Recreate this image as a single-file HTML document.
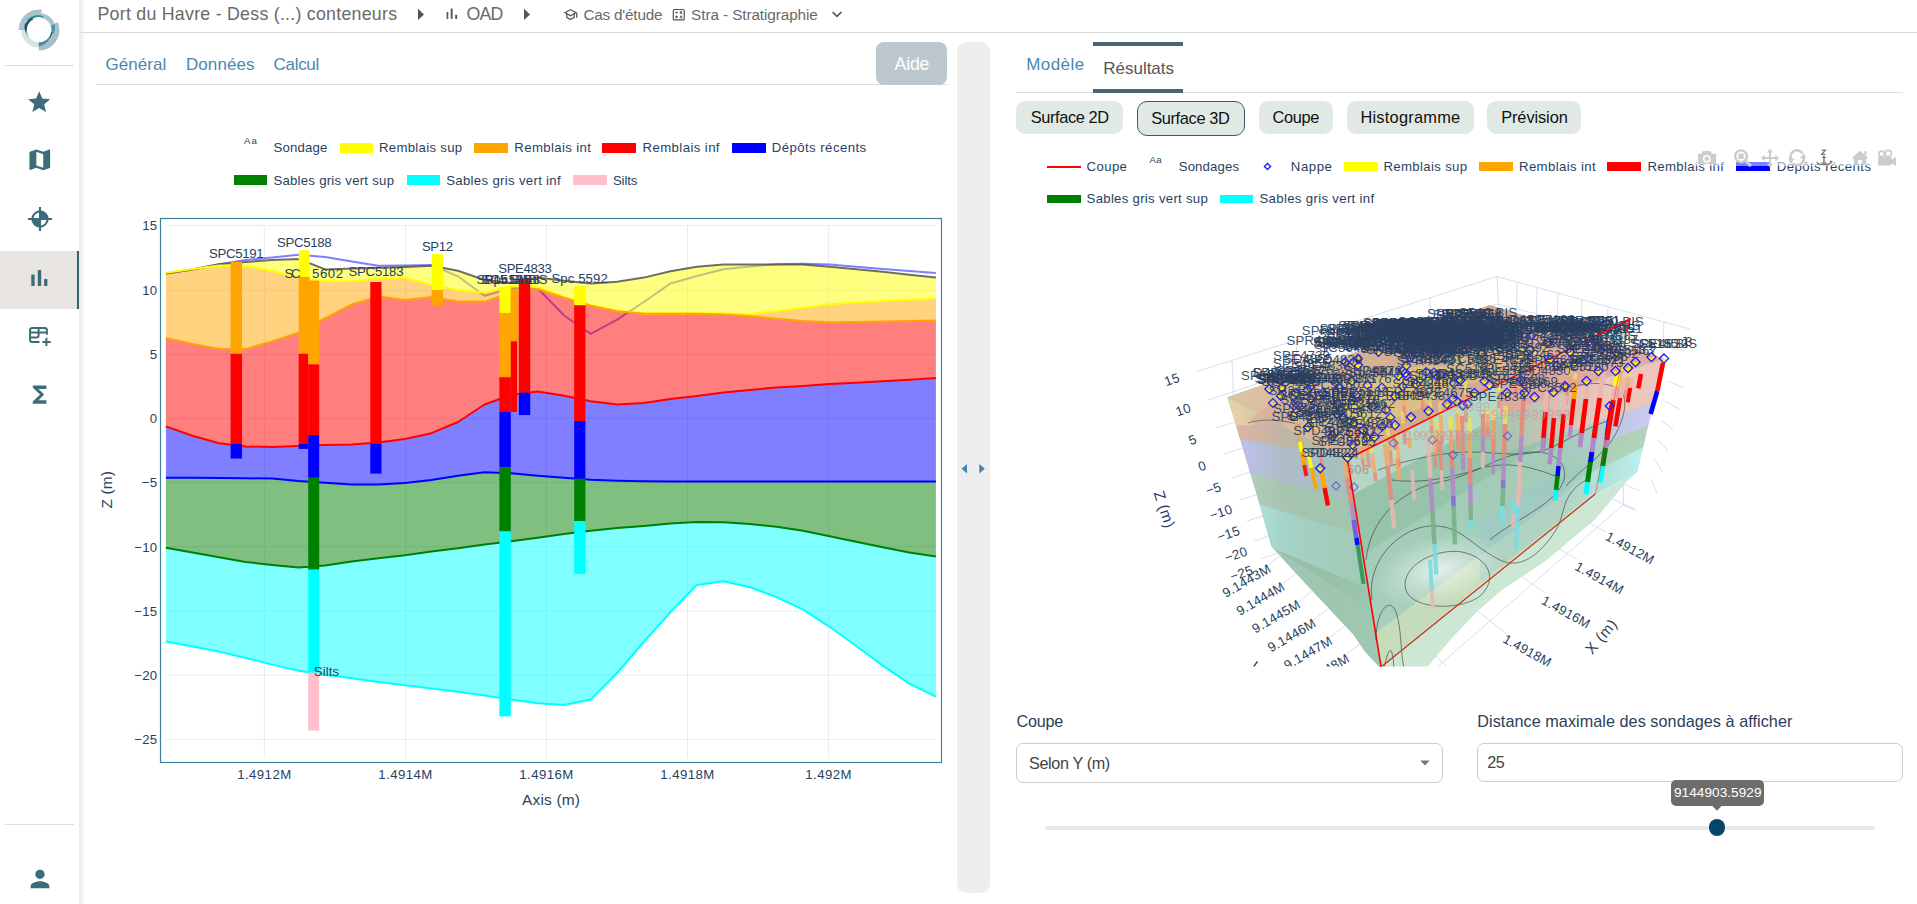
<!DOCTYPE html>
<html lang="fr"><head><meta charset="utf-8"><title>Stra - Stratigraphie</title>
<style>
html,body{margin:0;padding:0;background:#fff}
body{width:1917px;height:904px;position:relative;overflow:hidden;font-family:"Liberation Sans",sans-serif}
.abs{position:absolute}
.t{position:absolute;white-space:pre;line-height:20px;height:20px}
.sidebar{position:absolute;left:0;top:0;width:79px;height:904px;background:#fff}
svg{display:block;overflow:visible}
</style></head><body>
<!-- left chart -->
<svg class="abs" style="left:0;top:0" width="960" height="904" viewBox="0 0 960 904" font-family="Liberation Sans, sans-serif">
<path d="M166 225.4H936" stroke="#e6ebf5" stroke-width="1"/>
<path d="M166 290.1H936" stroke="#e6ebf5" stroke-width="1"/>
<path d="M166 354.4H936" stroke="#e6ebf5" stroke-width="1"/>
<path d="M166 418.2H936" stroke="#e6ebf5" stroke-width="1"/>
<path d="M166 482.5H936" stroke="#e6ebf5" stroke-width="1"/>
<path d="M166 546.8H936" stroke="#e6ebf5" stroke-width="1"/>
<path d="M166 611.0H936" stroke="#e6ebf5" stroke-width="1"/>
<path d="M166 675.2H936" stroke="#e6ebf5" stroke-width="1"/>
<path d="M166 739.4H936" stroke="#e6ebf5" stroke-width="1"/>
<path d="M264.4 225V758" stroke="#e6ebf5" stroke-width="1"/>
<path d="M405.5 225V758" stroke="#e6ebf5" stroke-width="1"/>
<path d="M546.5 225V758" stroke="#e6ebf5" stroke-width="1"/>
<path d="M687.5 225V758" stroke="#e6ebf5" stroke-width="1"/>
<path d="M828.6 225V758" stroke="#e6ebf5" stroke-width="1"/>
<polyline points="165.9,273.5 192.5,269.4 219.0,264.3 245.6,260.0 272.1,257.5 298.6,254.8 325.2,256.9 351.8,261.5 378.3,265.7 404.9,265.6 431.4,265.0 458.0,276.3 484.5,295.7 511.1,288.5 537.6,288.2 564.1,315.5 590.7,333.9 617.2,319.6 643.8,302.0 670.4,283.5 696.9,276.0 723.5,269.3 750.0,266.5 776.5,264.3 803.1,263.8 829.6,264.6 856.2,266.8 882.8,268.9 909.3,271.0 935.9,273.1" fill="none" stroke="#0000ff" stroke-width="2" stroke-opacity="0.5" stroke-linejoin="round"/>
<polygon points="165.9,273.5 192.5,269.4 219.0,264.3 245.6,261.9 272.1,260.0 298.6,259.0 325.2,269.4 351.8,268.5 378.3,267.8 404.9,266.9 431.4,265.7 458.0,270.7 484.5,280.0 511.1,283.0 537.6,277.5 564.1,280.7 590.7,283.6 617.2,281.8 643.8,277.6 670.4,271.2 696.9,266.8 723.5,264.6 750.0,264.5 776.5,264.5 803.1,264.6 829.6,266.8 856.2,269.3 882.8,271.8 909.3,274.7 935.9,277.6 935.9,298.8 909.3,299.8 882.8,301.0 856.2,302.5 829.6,304.3 803.1,307.7 776.5,311.0 750.0,314.3 723.5,313.6 696.9,313.2 670.4,313.3 643.8,313.4 617.2,310.7 590.7,305.0 564.1,297.0 537.6,286.9 511.1,285.7 484.5,292.6 458.0,290.0 431.4,284.8 404.9,277.5 378.3,278.5 351.8,280.9 325.2,281.3 298.6,277.0 272.1,271.0 245.6,265.7 219.0,265.4 192.5,269.0 165.9,272.8" fill="#ffff00" fill-opacity="0.5"/>
<polygon points="165.9,272.8 192.5,269.0 219.0,265.4 245.6,265.7 272.1,271.0 298.6,277.0 325.2,281.3 351.8,280.9 378.3,278.5 404.9,277.5 431.4,284.8 458.0,290.0 484.5,292.6 511.1,285.7 537.6,286.9 564.1,297.0 590.7,305.0 617.2,310.7 643.8,313.4 670.4,313.3 696.9,313.2 723.5,313.6 750.0,314.3 776.5,311.0 803.1,307.7 829.6,304.3 856.2,302.5 882.8,301.0 909.3,299.8 935.9,298.8 935.9,320.5 909.3,321.0 882.8,321.5 856.2,321.9 829.6,322.2 803.1,321.0 776.5,318.8 750.0,316.0 723.5,314.6 696.9,313.8 670.4,313.8 643.8,313.8 617.2,311.3 590.7,305.7 564.1,297.8 537.6,289.0 511.1,292.5 484.5,301.6 458.0,301.6 431.4,296.9 404.9,300.0 378.3,296.2 351.8,304.5 325.2,318.2 298.6,332.6 272.1,341.4 245.6,349.1 219.0,348.9 192.5,343.9 165.9,337.9" fill="#ffa500" fill-opacity="0.5"/>
<polygon points="165.9,337.9 192.5,343.9 219.0,348.9 245.6,349.1 272.1,341.4 298.6,332.6 325.2,318.2 351.8,304.5 378.3,296.2 404.9,300.0 431.4,296.9 458.0,301.6 484.5,301.6 511.1,292.5 537.6,289.0 564.1,297.8 590.7,305.7 617.2,311.3 643.8,313.8 670.4,313.8 696.9,313.8 723.5,314.6 750.0,316.0 776.5,318.8 803.1,321.0 829.6,322.2 856.2,321.9 882.8,321.5 909.3,321.0 935.9,320.5 935.9,378.0 909.3,379.7 882.8,381.3 856.2,382.8 829.6,384.1 803.1,386.0 776.5,387.5 750.0,389.9 723.5,392.5 696.9,395.9 670.4,399.1 643.8,403.1 617.2,404.5 590.7,401.3 564.1,395.7 537.6,391.6 511.1,395.0 484.5,404.5 458.0,422.0 431.4,433.2 404.9,438.9 378.3,442.6 351.8,444.5 325.2,445.1 298.6,446.1 272.1,447.0 245.6,446.4 219.0,443.3 192.5,435.7 165.9,426.4" fill="#ff0000" fill-opacity="0.5"/>
<polygon points="165.9,426.4 192.5,435.7 219.0,443.3 245.6,446.4 272.1,447.0 298.6,446.1 325.2,445.1 351.8,444.5 378.3,442.6 404.9,438.9 431.4,433.2 458.0,422.0 484.5,404.5 511.1,395.0 537.6,391.6 564.1,395.7 590.7,401.3 617.2,404.5 643.8,403.1 670.4,399.1 696.9,395.9 723.5,392.5 750.0,389.9 776.5,387.5 803.1,386.0 829.6,384.1 856.2,382.8 882.8,381.3 909.3,379.7 935.9,378.0 935.9,481.4 909.3,481.4 882.8,481.4 856.2,481.4 829.6,481.4 803.1,481.4 776.5,481.4 750.0,481.4 723.5,481.4 696.9,481.4 670.4,481.4 643.8,481.2 617.2,480.7 590.7,479.8 564.1,477.7 537.6,475.7 511.1,473.2 484.5,472.2 458.0,475.7 431.4,480.0 404.9,483.1 378.3,484.4 351.8,484.4 325.2,482.7 298.6,481.0 272.1,478.5 245.6,478.3 219.0,478.0 192.5,477.8 165.9,477.8" fill="#0000ff" fill-opacity="0.5"/>
<polygon points="165.9,477.8 192.5,477.8 219.0,478.0 245.6,478.3 272.1,478.5 298.6,481.0 325.2,482.7 351.8,484.4 378.3,484.4 404.9,483.1 431.4,480.0 458.0,475.7 484.5,472.2 511.1,473.2 537.6,475.7 564.1,477.7 590.7,479.8 617.2,480.7 643.8,481.2 670.4,481.4 696.9,481.4 723.5,481.4 750.0,481.4 776.5,481.4 803.1,481.4 829.6,481.4 856.2,481.4 882.8,481.4 909.3,481.4 935.9,481.4 935.9,556.6 909.3,552.4 882.8,547.3 856.2,541.8 829.6,536.3 803.1,530.7 776.5,526.7 750.0,524.1 723.5,522.3 696.9,522.1 670.4,523.6 643.8,525.9 617.2,528.1 590.7,530.7 564.1,534.1 537.6,537.7 511.1,541.3 484.5,544.5 458.0,548.2 431.4,551.4 404.9,555.2 378.3,558.3 351.8,561.5 325.2,565.5 298.6,567.6 272.1,565.0 245.6,561.9 219.0,557.3 192.5,552.5 165.9,547.8" fill="#008000" fill-opacity="0.5"/>
<polygon points="165.9,547.8 192.5,552.5 219.0,557.3 245.6,561.9 272.1,565.0 298.6,567.6 325.2,565.5 351.8,561.5 378.3,558.3 404.9,555.2 431.4,551.4 458.0,548.2 484.5,544.5 511.1,541.3 537.6,537.7 564.1,534.1 590.7,530.7 617.2,528.1 643.8,525.9 670.4,523.6 696.9,522.1 723.5,522.3 750.0,524.1 776.5,526.7 803.1,530.7 829.6,536.3 856.2,541.8 882.8,547.3 909.3,552.4 935.9,556.6 935.9,696.7 909.3,683.6 882.8,665.7 856.2,646.0 829.6,626.8 803.1,609.7 776.5,597.1 750.0,587.2 723.5,581.2 696.9,584.9 670.4,612.3 643.8,642.0 617.2,673.0 590.7,699.6 564.1,704.9 537.6,703.3 511.1,699.6 484.5,695.6 458.0,691.8 431.4,688.5 404.9,685.2 378.3,681.9 351.8,678.3 325.2,674.8 298.6,670.8 272.1,664.6 245.6,658.0 219.0,651.6 192.5,646.5 165.9,641.6" fill="#00ffff" fill-opacity="0.5"/>
<polyline points="165.9,273.5 192.5,269.4 219.0,264.3 245.6,261.9 272.1,260.0 298.6,259.0 325.2,269.4 351.8,268.5 378.3,267.8 404.9,266.9 431.4,265.7 458.0,270.7 484.5,280.0 511.1,283.0 537.6,277.5 564.1,280.7 590.7,283.6 617.2,281.8 643.8,277.6 670.4,271.2 696.9,266.8 723.5,264.6 750.0,264.5 776.5,264.5 803.1,264.6 829.6,266.8 856.2,269.3 882.8,271.8 909.3,274.7 935.9,277.6" fill="none" stroke="#555555" stroke-width="2" stroke-opacity="0.85" stroke-linejoin="round"/>
<polyline points="165.9,272.8 192.5,269.0 219.0,265.4 245.6,265.7 272.1,271.0 298.6,277.0 325.2,281.3 351.8,280.9 378.3,278.5 404.9,277.5 431.4,284.8 458.0,290.0 484.5,292.6 511.1,285.7 537.6,286.9 564.1,297.0 590.7,305.0 617.2,310.7 643.8,313.4 670.4,313.3 696.9,313.2 723.5,313.6 750.0,314.3 776.5,311.0 803.1,307.7 829.6,304.3 856.2,302.5 882.8,301.0 909.3,299.8 935.9,298.8" fill="none" stroke="#ffff00" stroke-width="2" stroke-opacity="1" stroke-linejoin="round"/>
<polyline points="165.9,337.9 192.5,343.9 219.0,348.9 245.6,349.1 272.1,341.4 298.6,332.6 325.2,318.2 351.8,304.5 378.3,296.2 404.9,300.0 431.4,296.9 458.0,301.6 484.5,301.6 511.1,292.5 537.6,289.0 564.1,297.8 590.7,305.7 617.2,311.3 643.8,313.8 670.4,313.8 696.9,313.8 723.5,314.6 750.0,316.0 776.5,318.8 803.1,321.0 829.6,322.2 856.2,321.9 882.8,321.5 909.3,321.0 935.9,320.5" fill="none" stroke="#ffa500" stroke-width="2" stroke-opacity="1" stroke-linejoin="round"/>
<polyline points="165.9,426.4 192.5,435.7 219.0,443.3 245.6,446.4 272.1,447.0 298.6,446.1 325.2,445.1 351.8,444.5 378.3,442.6 404.9,438.9 431.4,433.2 458.0,422.0 484.5,404.5 511.1,395.0 537.6,391.6 564.1,395.7 590.7,401.3 617.2,404.5 643.8,403.1 670.4,399.1 696.9,395.9 723.5,392.5 750.0,389.9 776.5,387.5 803.1,386.0 829.6,384.1 856.2,382.8 882.8,381.3 909.3,379.7 935.9,378.0" fill="none" stroke="#ff0000" stroke-width="2" stroke-opacity="1" stroke-linejoin="round"/>
<polyline points="165.9,477.8 192.5,477.8 219.0,478.0 245.6,478.3 272.1,478.5 298.6,481.0 325.2,482.7 351.8,484.4 378.3,484.4 404.9,483.1 431.4,480.0 458.0,475.7 484.5,472.2 511.1,473.2 537.6,475.7 564.1,477.7 590.7,479.8 617.2,480.7 643.8,481.2 670.4,481.4 696.9,481.4 723.5,481.4 750.0,481.4 776.5,481.4 803.1,481.4 829.6,481.4 856.2,481.4 882.8,481.4 909.3,481.4 935.9,481.4" fill="none" stroke="#0000ff" stroke-width="2" stroke-opacity="1" stroke-linejoin="round"/>
<polyline points="165.9,547.8 192.5,552.5 219.0,557.3 245.6,561.9 272.1,565.0 298.6,567.6 325.2,565.5 351.8,561.5 378.3,558.3 404.9,555.2 431.4,551.4 458.0,548.2 484.5,544.5 511.1,541.3 537.6,537.7 564.1,534.1 590.7,530.7 617.2,528.1 643.8,525.9 670.4,523.6 696.9,522.1 723.5,522.3 750.0,524.1 776.5,526.7 803.1,530.7 829.6,536.3 856.2,541.8 882.8,547.3 909.3,552.4 935.9,556.6" fill="none" stroke="#008000" stroke-width="2" stroke-opacity="1" stroke-linejoin="round"/>
<polyline points="165.9,641.6 192.5,646.5 219.0,651.6 245.6,658.0 272.1,664.6 298.6,670.8 325.2,674.8 351.8,678.3 378.3,681.9 404.9,685.2 431.4,688.5 458.0,691.8 484.5,695.6 511.1,699.6 537.6,703.3 564.1,704.9 590.7,699.6 617.2,673.0 643.8,642.0 670.4,612.3 696.9,584.9 723.5,581.2 750.0,587.2 776.5,597.1 803.1,609.7 829.6,626.8 856.2,646.0 882.8,665.7 909.3,683.6 935.9,696.7" fill="none" stroke="#00ffff" stroke-width="2" stroke-opacity="1" stroke-linejoin="round"/>
<rect x="230.6" y="261.9" width="11.4" height="91.9" fill="#ffa500"/>
<rect x="230.6" y="353.8" width="11.4" height="90.1" fill="#ff0000"/>
<rect x="230.6" y="443.9" width="11.4" height="14.6" fill="#0000ff"/>
<rect x="298.7" y="250.3" width="10.9" height="26.6" fill="#ffff00"/>
<rect x="298.7" y="276.9" width="10.9" height="76.9" fill="#ffa500"/>
<rect x="298.7" y="353.8" width="9.5" height="90.1" fill="#ff0000"/>
<rect x="298.7" y="443.9" width="9.5" height="5.0" fill="#0000ff"/>
<rect x="308.2" y="280.7" width="11.0" height="83.7" fill="#ffa500"/>
<rect x="308.2" y="364.4" width="11.0" height="70.7" fill="#ff0000"/>
<rect x="308.2" y="435.1" width="11.0" height="42.7" fill="#0000ff"/>
<rect x="308.2" y="477.8" width="11.0" height="91.9" fill="#008000"/>
<rect x="308.2" y="569.7" width="11.0" height="102.9" fill="#00ffff"/>
<rect x="308.2" y="672.6" width="11.0" height="58.0" fill="#ffc0cb"/>
<rect x="370.3" y="280.9" width="11.2" height="1.1" fill="#ffff00"/>
<rect x="370.3" y="282.0" width="11.2" height="161.9" fill="#ff0000"/>
<rect x="370.3" y="443.9" width="11.2" height="29.7" fill="#0000ff"/>
<rect x="431.7" y="254.1" width="11.3" height="35.9" fill="#ffff00"/>
<rect x="431.7" y="290.0" width="11.3" height="15.5" fill="#ffa500"/>
<rect x="499.4" y="287.2" width="11.4" height="25.8" fill="#ffff00"/>
<rect x="499.4" y="313.0" width="11.4" height="64.2" fill="#ffa500"/>
<rect x="499.4" y="377.2" width="11.4" height="34.8" fill="#ff0000"/>
<rect x="499.4" y="412.0" width="11.4" height="55.3" fill="#0000ff"/>
<rect x="499.4" y="467.3" width="11.4" height="64.1" fill="#008000"/>
<rect x="499.4" y="531.4" width="11.4" height="185.0" fill="#00ffff"/>
<rect x="510.8" y="288.8" width="7.5" height="52.6" fill="#ffa500"/>
<rect x="510.8" y="341.4" width="6.2" height="70.6" fill="#ff0000"/>
<rect x="518.9" y="276.8" width="11.3" height="1.6" fill="#ffff00"/>
<rect x="518.9" y="278.2" width="11.3" height="114.4" fill="#ff0000"/>
<rect x="518.9" y="392.6" width="11.3" height="22.5" fill="#0000ff"/>
<rect x="574.2" y="286.3" width="11.2" height="19.0" fill="#ffff00"/>
<rect x="574.2" y="305.3" width="11.2" height="115.8" fill="#ff0000"/>
<rect x="574.2" y="421.1" width="11.2" height="57.6" fill="#0000ff"/>
<rect x="574.2" y="478.7" width="11.2" height="42.5" fill="#008000"/>
<rect x="574.2" y="521.2" width="11.2" height="52.7" fill="#00ffff"/>
<rect x="160.5" y="218.5" width="781" height="544" fill="none" stroke="#437f98" stroke-width="1.200"/>
<text x="209.00" y="258.00" font-size="13.20" fill="#2a3f5f" text-anchor="start" textLength="54.50" lengthAdjust="spacing" >SPC5191</text>
<text x="277.00" y="246.80" font-size="13.20" fill="#2a3f5f" text-anchor="start" textLength="54.50" lengthAdjust="spacing" >SPC5188</text>
<text x="284.50" y="277.70" font-size="13.20" fill="#2a3f5f" text-anchor="start" textLength="16.00" lengthAdjust="spacing" >SC</text>
<text x="312.00" y="277.70" font-size="13.20" fill="#2a3f5f" text-anchor="start" textLength="31.00" lengthAdjust="spacing" >5602</text>
<text x="348.50" y="276.00" font-size="13.20" fill="#2a3f5f" text-anchor="start" textLength="55.00" lengthAdjust="spacing" >SPC5183</text>
<text x="422.00" y="250.60" font-size="13.20" fill="#2a3f5f" text-anchor="start" textLength="31.00" lengthAdjust="spacing" >SP12</text>
<text x="498.20" y="273.20" font-size="13.20" fill="#2a3f5f" text-anchor="start" textLength="53.60" lengthAdjust="spacing" >SPE4833</text>
<text x="476.50" y="284.00" font-size="13.20" fill="#2a3f5f" text-anchor="start" textLength="55.50" lengthAdjust="spacing" >SP15 BIS</text>
<text x="481.00" y="284.00" font-size="13.20" fill="#2a3f5f" text-anchor="start" textLength="49.00" lengthAdjust="spacing" >SC5185</text>
<text x="484.00" y="284.00" font-size="13.20" fill="#2a3f5f" text-anchor="start" textLength="56.00" lengthAdjust="spacing" >Spc5188</text>
<text x="528.00" y="284.00" font-size="13.20" fill="#2a3f5f" text-anchor="start" textLength="19.50" lengthAdjust="spacing" >BIS</text>
<text x="551.50" y="283.20" font-size="13.20" fill="#2a3f5f" text-anchor="start" textLength="56.30" lengthAdjust="spacing" >Spc 5592</text>
<text x="313.80" y="676.00" font-size="13.20" fill="#2a3f5f" text-anchor="start" textLength="25.20" lengthAdjust="spacing" >Silts</text>
<text x="157.50" y="230.20" font-size="13.20" fill="#2a3f5f" text-anchor="end" letter-spacing="0.3">15</text>
<text x="157.50" y="294.90" font-size="13.20" fill="#2a3f5f" text-anchor="end" letter-spacing="0.3">10</text>
<text x="157.50" y="359.20" font-size="13.20" fill="#2a3f5f" text-anchor="end" letter-spacing="0.3">5</text>
<text x="157.50" y="423.00" font-size="13.20" fill="#2a3f5f" text-anchor="end" letter-spacing="0.3">0</text>
<text x="157.50" y="487.30" font-size="13.20" fill="#2a3f5f" text-anchor="end" letter-spacing="0.3">−5</text>
<text x="157.50" y="551.60" font-size="13.20" fill="#2a3f5f" text-anchor="end" letter-spacing="0.3">−10</text>
<text x="157.50" y="615.80" font-size="13.20" fill="#2a3f5f" text-anchor="end" letter-spacing="0.3">−15</text>
<text x="157.50" y="680.00" font-size="13.20" fill="#2a3f5f" text-anchor="end" letter-spacing="0.3">−20</text>
<text x="157.50" y="744.20" font-size="13.20" fill="#2a3f5f" text-anchor="end" letter-spacing="0.3">−25</text>
<text x="264.40" y="779.30" font-size="13.20" fill="#2a3f5f" text-anchor="middle" letter-spacing="0.45">1.4912M</text>
<text x="405.50" y="779.30" font-size="13.20" fill="#2a3f5f" text-anchor="middle" letter-spacing="0.45">1.4914M</text>
<text x="546.50" y="779.30" font-size="13.20" fill="#2a3f5f" text-anchor="middle" letter-spacing="0.45">1.4916M</text>
<text x="687.50" y="779.30" font-size="13.20" fill="#2a3f5f" text-anchor="middle" letter-spacing="0.45">1.4918M</text>
<text x="828.60" y="779.30" font-size="13.20" fill="#2a3f5f" text-anchor="middle" letter-spacing="0.45">1.492M</text>
<text x="522.00" y="805.30" font-size="15.40" fill="#2a3f5f" text-anchor="start" textLength="58.00" lengthAdjust="spacing" >Axis (m)</text>
<g transform="translate(112.3,508.5) rotate(-90)"><text x="0.00" y="0.00" font-size="15.40" fill="#2a3f5f" text-anchor="start" textLength="37.50" lengthAdjust="spacing" >Z (m)</text></g>
</svg>
<!-- right 3d chart -->
<svg class="abs" style="left:1000px;top:230px" width="917" height="450" viewBox="1000 230 917 450" font-family="Liberation Sans, sans-serif">
<defs>
<clipPath id="clip3d"><rect x="1000" y="230" width="917" height="436.5"/></clipPath>
<linearGradient id="gTop" x1="0" y1="0" x2="1" y2="0"><stop offset="0" stop-color="#dcc4a2"/><stop offset="0.45" stop-color="#d2aa90"/><stop offset="1" stop-color="#dca898"/></linearGradient>
<linearGradient id="gInt" x1="0" y1="0" x2="0.35" y2="1"><stop offset="0" stop-color="#b2d3bf"/><stop offset="0.5" stop-color="#9fcab4"/><stop offset="1" stop-color="#b4d8c4"/></linearGradient>
<linearGradient id="gBot" x1="0" y1="0" x2="1" y2="1"><stop offset="0" stop-color="#b8dcc8"/><stop offset="1" stop-color="#d4ecd8"/></linearGradient>
<radialGradient id="gHi"><stop offset="0" stop-color="#ffffff" stop-opacity="0.7"/><stop offset="0.55" stop-color="#ffffff" stop-opacity="0.28"/><stop offset="1" stop-color="#ffffff" stop-opacity="0"/></radialGradient>
<linearGradient id="gLf" x1="0" y1="0" x2="1" y2="0"><stop offset="0" stop-color="#ffffff" stop-opacity="0.25"/><stop offset="1" stop-color="#6a9a80" stop-opacity="0.35"/></linearGradient>
<linearGradient id="gLw" gradientUnits="userSpaceOnUse" x1="1234" y1="0" x2="1370" y2="0"><stop offset="0" stop-color="#9ab8a4" stop-opacity="0"/><stop offset="0.35" stop-color="#9ab8a4" stop-opacity="0.5"/><stop offset="1" stop-color="#9cc6ae" stop-opacity="0.9"/></linearGradient>
<linearGradient id="lgF0" gradientUnits="userSpaceOnUse" x1="1480" y1="0" x2="1600" y2="0"><stop offset="0" stop-color="#fff" stop-opacity="0"/><stop offset="1" stop-color="#fff" stop-opacity="0.92"/></linearGradient>
<linearGradient id="lgF1" gradientUnits="userSpaceOnUse" x1="1560" y1="0" x2="1640" y2="0"><stop offset="0" stop-color="#fff" stop-opacity="0"/><stop offset="1" stop-color="#fff" stop-opacity="0.95"/></linearGradient>
<mask id="mgF0" maskUnits="userSpaceOnUse" x="1300" y="300" width="400" height="400"><rect x="1300" y="300" width="400" height="400" fill="url(#lgF0)"/></mask>
<mask id="mgF1" maskUnits="userSpaceOnUse" x="1300" y="300" width="400" height="400"><rect x="1300" y="300" width="400" height="400" fill="url(#lgF1)"/></mask>
</defs>
<g clip-path="url(#clip3d)">
<path d="M1197.0 371.5L1497.0 276.5M1207.0 400.5L1497.0 304.0M1216.0 428.0L1300.0 401.0M1224.0 454.0L1262.0 442.0M1232.0 478.0L1256.0 470.0M1240.0 500.0L1262.0 493.0M1247.0 521.0L1268.0 514.0M1254.0 541.0L1274.0 534.5M1260.0 559.0L1280.0 552.5M1497 276.5L1690 329M1497 304L1684 351M1668.5 381.5L1684.5 388.0M1665.0 401.0L1679.0 409.0M1661.5 420.5L1673.5 430.0M1658.0 440.0L1668.0 451.0M1654.5 459.5L1662.5 472.0M1651.0 479.0L1657.0 493.0M1232.0 361.0L1233.5 395.0M1296.0 341.0L1297.5 372.0M1364.0 319.0L1365.5 345.0M1430.0 298.0L1431.5 322.0M1497.0 276.5L1498.5 306.0M1517.0 281.9L1516.5 315.9M1537.0 287.4L1536.2 323.4M1558.0 293.1L1556.8 331.1M1582.0 299.6L1580.5 339.6M1608.0 306.7L1606.1 348.7M1637.0 314.6L1634.8 358.6M1664.0 321.9L1661.4 367.9M1436.0 668.0L1624.0 504.0M1623.6 504.3L1623.6 484.4M1623.6 484.4L1640.2 491.0M1622.0 505.0L1636.0 510.0M1420.1 640.7L1446.5 666.2M1468.2 603.5L1508.4 635.3M1506.9 566.3L1545.6 593.4M1544.0 539.7L1577.2 559.6M1575.0 515.4L1605.9 532.0M1599.3 493.3L1634.7 508.8M1262.0 570.0L1290.0 548.0M1277.5 588.0L1305.5 566.0M1293.0 606.0L1321.0 584.0M1308.5 624.0L1336.5 602.0M1324.0 642.0L1352.0 620.0M1339.5 660.0L1367.5 638.0" stroke="#d6dff0" stroke-width="1" fill="none"/>
<polygon points="1227.2,397.2 1490.0,305.0 1664.0,359.0 1653.0,403.0 1648.0,425.0 1643.0,447.0 1637.0,472.0 1625.8,482.2 1617.0,493.3 1594.9,519.8 1570.4,540.0 1547.1,560.1 1523.9,575.6 1500.7,591.1 1477.4,611.3 1451.1,639.1 1427.9,666.2 1427.0,668.0 1380.4,668.0 1364.5,651.0 1353.9,635.0 1329.0,608.5 1300.8,578.4 1271.6,546.5 1259.6,505.5 1251.0,471.6 1240.0,438.5 1237.0,427.3" fill="url(#gBot)" fill-opacity="1" />
<polygon points="1347.4,459.0 1500.0,383.0 1600.0,345.0 1664.0,359.0 1653.0,403.0 1648.0,425.0 1643.0,447.0 1637.0,472.0 1595.3,494.0 1540.0,537.0 1480.0,585.0 1420.0,636.0 1381.0,666.0" fill="url(#gInt)" fill-opacity="1" />
<polygon points="1347.4,459.0 1630.0,319.0 1624.1,348.8 1353.1,494.2" fill="#bcd8c8" fill-opacity="0.75" />
<polygon points="1353.1,494.2 1624.1,348.8 1614.0,399.5 1362.9,554.2" fill="#8cc0a2" fill-opacity="0.55" />
<polygon points="1362.9,554.2 1614.0,399.5 1600.9,466.0 1375.6,632.9" fill="#a3cebb" fill-opacity="0.5" />
<polygon points="1375.6,632.9 1600.9,466.0 1595.3,494.0 1381.0,666.0" fill="#cadfba" fill-opacity="0.8" />
<polygon points="1480.0,520.0 1560.0,470.0 1600.0,452.0 1596.0,490.0 1540.0,536.0 1480.0,582.0" fill="#9cc8cc" fill-opacity="0.45" />
<clipPath id="cLf"><polygon points="1227.4,397.4 1347.4,459.0 1381.0,666.0 1380.4,668.0 1364.5,651.0 1353.9,635.0 1329.0,608.5 1300.8,578.4 1271.6,546.5 1259.8,504.5 1249.9,472.6 1239.9,438.8 1235.9,425.8"/></clipPath>
<g clip-path="url(#cLf)">
<polygon points="1227.4,397.4 1347.4,459.0 1381.0,666.0 1380.4,668.0 1364.5,651.0 1353.9,635.0 1329.0,608.5 1300.8,578.4 1271.6,546.5 1259.8,504.5 1249.9,472.6 1239.9,438.8 1235.9,425.8" fill="#92c1a7" fill-opacity="1" />
<polygon points="1235.9,425.8 1280.7,424.8 1390.0,481.1 1390.0,464.3 1239.9,438.8" fill="#e4b2a4" fill-opacity="1" />
<polygon points="1227.4,397.4 1280.7,424.8 1235.9,425.8" fill="#e8cfa8" fill-opacity="1" />
<polygon points="1239.9,438.8 1390.0,464.3 1390.0,514.6 1249.9,472.6" fill="#c2c0f0" fill-opacity="1" />
<polygon points="1249.9,472.6 1390.0,514.6 1390.0,543.6 1259.8,504.5" fill="#b4d2bc" fill-opacity="1" />
<polygon points="1259.8,504.5 1390.0,543.6 1390.0,597.5 1272.8,548.3" fill="#b2f0ee" fill-opacity="1" />
<polygon points="1271.6,546.5 1357.4,601.4 1374.0,614.0 1383.0,668.0 1380.4,668.0 1364.5,651.0 1353.9,635.0 1329.0,608.5 1300.8,578.4" fill="#aad4c2" fill-opacity="1" />
<rect x="1225" y="390" width="165" height="290" fill="url(#gLw)"/>
</g>
<polygon points="1346.6,458.6 1664.0,359.0 1654.0,403.0 1354.8,503.0" fill="#f3c4bc" fill-opacity="1" mask="url(#mgF0)"/>
<polygon points="1354.8,503.0 1654.0,403.0 1648.4,425.2 1361.5,545.0" fill="#cbc9f2" fill-opacity="1" mask="url(#mgF1)"/>
<polygon points="1361.5,545.0 1648.4,425.2 1643.0,447.3 1367.5,582.0" fill="#b3d3ba" fill-opacity="1" mask="url(#mgF1)"/>
<polygon points="1367.5,582.0 1643.0,447.3 1637.4,471.6 1376.8,640.0" fill="#bdf1ef" fill-opacity="1" mask="url(#mgF1)"/>
<polygon points="1227.2,397.2 1490.0,305.0 1560.0,326.0 1664.0,359.0 1640.0,364.0 1600.0,377.0 1545.0,398.0 1500.0,415.0 1500.0,383.0 1347.4,459.0" fill="url(#gTop)" fill-opacity="1" />
<polygon points="1500.0,383.0 1560.0,345.0 1640.0,350.0 1664.0,359.0 1640.0,366.0 1600.0,380.0 1545.0,400.0 1500.0,417.0" fill="#e4aaa0" fill-opacity="0.75" />
<ellipse cx="1395" cy="395" rx="60" ry="22" transform="rotate(-20 1395 395)" fill="#e8d878" fill-opacity="0.45"/>
<ellipse cx="1480" cy="365" rx="50" ry="16" transform="rotate(-18 1480 365)" fill="#e8d878" fill-opacity="0.35"/>
<ellipse cx="1290" cy="410" rx="40" ry="12" transform="rotate(-18 1290 410)" fill="#d8a49c" fill-opacity="0.5"/>
<ellipse cx="1440" cy="570" rx="66" ry="34" transform="rotate(-14 1440 570)" fill="url(#gHi)"/>
<path d="M1378 470C1400 462 1440 452 1470 452C1500 452 1520 458 1545 450C1570 440 1590 425 1612 420" fill="none" stroke="#2a2a2a" stroke-width="0.7" stroke-opacity="0.8"/>
<path d="M1392 480C1420 484 1450 478 1475 470C1510 458 1540 470 1560 478" fill="none" stroke="#2a2a2a" stroke-width="0.7" stroke-opacity="0.8"/>
<path d="M1366 560C1370 520 1400 490 1440 482C1480 474 1500 452 1535 452C1560 452 1572 470 1560 488C1545 510 1510 522 1490 540" fill="none" stroke="#2a2a2a" stroke-width="0.7" stroke-opacity="0.8"/>
<path d="M1372 600C1366 560 1400 528 1430 526C1460 524 1470 545 1500 560C1520 570 1540 555 1556 530C1566 514 1560 492 1590 478" fill="none" stroke="#2a2a2a" stroke-width="0.7" stroke-opacity="0.8"/>
<path d="M1405 585C1405 562 1440 548 1462 552C1490 558 1498 580 1480 596C1460 612 1405 610 1405 585Z" fill="none" stroke="#2a2a2a" stroke-width="0.7" stroke-opacity="0.8"/>
<path d="M1376 640C1376 610 1390 596 1396 612C1402 630 1400 650 1404 668" fill="none" stroke="#2a2a2a" stroke-width="0.7" stroke-opacity="0.8"/>
<path d="M1384 668C1388 650 1392 640 1394 668" fill="none" stroke="#2a2a2a" stroke-width="0.7" stroke-opacity="0.8"/>
<path d="M1560 390C1580 384 1600 380 1618 388C1630 396 1625 420 1612 440C1600 458 1580 470 1566 486" fill="none" stroke="#2a2a2a" stroke-width="0.7" stroke-opacity="0.8"/>
<path d="M1248 423C1262 418 1285 420 1300 425" fill="none" stroke="#2a2a2a" stroke-width="0.7" stroke-opacity="0.7"/>
<g fill="none"><path d="M1345.0 462.0L1347.5 478.3" stroke="#f0a868" stroke-width="5.0" stroke-opacity="0.88"/><path d="M1347.5 478.0L1351.7 504.3" stroke="#e88878" stroke-width="5.0" stroke-opacity="0.88"/><path d="M1351.7 504.0L1354.8 524.3" stroke="#b088c8" stroke-width="5.0" stroke-opacity="0.88"/><path d="M1385.0 444.0L1387.5 466.3" stroke="#f0a868" stroke-width="4.5" stroke-opacity="0.88"/><path d="M1387.5 466.0L1391.3 500.3" stroke="#e88878" stroke-width="4.5" stroke-opacity="0.88"/><path d="M1391.3 500.0L1394.4 528.3" stroke="#e8b8b0" stroke-width="4.5" stroke-opacity="0.88"/><path d="M1396.0 446.0L1397.2 458.3" stroke="#e8e060" stroke-width="4.2" stroke-opacity="0.88"/><path d="M1397.2 458.0L1399.4 480.3" stroke="#f0a868" stroke-width="4.2" stroke-opacity="0.88"/><path d="M1409.0 438.0L1409.8 448.3" stroke="#f0a868" stroke-width="4.0" stroke-opacity="0.88"/><path d="M1428.0 438.0L1430.4 478.3" stroke="#e8b8b0" stroke-width="4.5" stroke-opacity="0.88"/><path d="M1430.4 478.0L1432.4 510.3" stroke="#b088c8" stroke-width="4.5" stroke-opacity="0.88"/><path d="M1432.4 510.0L1434.5 544.3" stroke="#78b088" stroke-width="4.5" stroke-opacity="0.88"/><path d="M1434.5 544.0L1436.3 574.3" stroke="#78dce0" stroke-width="4.5" stroke-opacity="0.88"/><path d="M1450.5 418.0L1451.3 440.3" stroke="#e8e060" stroke-width="4.5" stroke-opacity="0.88"/><path d="M1451.3 440.0L1452.2 468.3" stroke="#e88878" stroke-width="4.5" stroke-opacity="0.88"/><path d="M1452.2 468.0L1453.2 496.3" stroke="#b088c8" stroke-width="4.5" stroke-opacity="0.88"/><path d="M1453.2 496.0L1453.6 506.3" stroke="#8868d8" stroke-width="4.5" stroke-opacity="0.88"/><path d="M1453.6 506.0L1454.9 544.3" stroke="#78b088" stroke-width="4.5" stroke-opacity="0.88"/><path d="M1462.0 416.0L1462.8 454.3" stroke="#e88878" stroke-width="4.2" stroke-opacity="0.88"/><path d="M1462.8 454.0L1463.1 470.3" stroke="#b088c8" stroke-width="4.2" stroke-opacity="0.88"/><path d="M1469.5 418.0L1469.7 434.3" stroke="#e8e060" stroke-width="4.5" stroke-opacity="0.88"/><path d="M1469.7 434.0L1470.0 458.3" stroke="#f0a868" stroke-width="4.5" stroke-opacity="0.88"/><path d="M1470.0 458.0L1470.3 484.3" stroke="#e88878" stroke-width="4.5" stroke-opacity="0.88"/><path d="M1470.3 484.0L1470.6 506.3" stroke="#b088c8" stroke-width="4.5" stroke-opacity="0.88"/><path d="M1470.6 506.0L1470.8 520.3" stroke="#78b088" stroke-width="4.5" stroke-opacity="0.88"/><path d="M1470.8 520.0L1470.9 530.3" stroke="#78dce0" stroke-width="4.5" stroke-opacity="0.88"/><path d="M1483.0 414.0L1482.9 436.3" stroke="#e88878" stroke-width="4.0" stroke-opacity="0.88"/><path d="M1482.9 436.0L1482.9 452.3" stroke="#b088c8" stroke-width="4.0" stroke-opacity="0.88"/><path d="M1482.9 452.0L1482.8 468.3" stroke="#e8b8b0" stroke-width="4.0" stroke-opacity="0.88"/><path d="M1505.5 406.0L1505.0 424.3" stroke="#e8e060" stroke-width="4.5" stroke-opacity="0.88"/><path d="M1505.0 424.0L1503.9 458.3" stroke="#e88878" stroke-width="4.5" stroke-opacity="0.88"/><path d="M1503.9 458.0L1503.3 480.3" stroke="#b088c8" stroke-width="4.5" stroke-opacity="0.88"/><path d="M1503.3 480.0L1503.0 488.3" stroke="#8868d8" stroke-width="4.5" stroke-opacity="0.88"/><path d="M1503.0 488.0L1502.5 506.3" stroke="#78b088" stroke-width="4.5" stroke-opacity="0.88"/><path d="M1502.5 506.0L1502.0 524.3" stroke="#78dce0" stroke-width="4.5" stroke-opacity="0.88"/><path d="M1523.5 396.0L1521.5 436.3" stroke="#e88878" stroke-width="4.5" stroke-opacity="0.88"/><path d="M1521.5 436.0L1520.1 462.3" stroke="#b088c8" stroke-width="4.5" stroke-opacity="0.88"/><path d="M1520.1 462.0L1517.9 506.3" stroke="#e8b8b0" stroke-width="4.5" stroke-opacity="0.88"/><path d="M1517.9 506.0L1515.6 550.3" stroke="#78dce0" stroke-width="4.5" stroke-opacity="0.88"/><path d="M1514.0 500.0L1513.4 514.3" stroke="#78dce0" stroke-width="4.0" stroke-opacity="0.88"/><path d="M1513.4 514.0L1512.9 528.3" stroke="#e8b8b0" stroke-width="4.0" stroke-opacity="0.88"/><path d="M1548.0 392.0L1545.3 426.3" stroke="#e88878" stroke-width="4.2" stroke-opacity="0.88"/><path d="M1545.3 426.0L1543.2 452.3" stroke="#b088c8" stroke-width="4.2" stroke-opacity="0.88"/><path d="M1430.0 560.0L1431.8 590.3" stroke="#78dce0" stroke-width="4.0" stroke-opacity="0.88"/><path d="M1431.8 590.0L1432.8 608.3" stroke="#e8b8b0" stroke-width="4.0" stroke-opacity="0.88"/><path d="M1412.0 470.0L1414.4 500.3" stroke="#e8b8b0" stroke-width="3.5" stroke-opacity="0.88"/><path d="M1440.0 440.0L1441.4 470.3" stroke="#e88878" stroke-width="3.5" stroke-opacity="0.88"/><path d="M1441.4 470.0L1442.4 490.3" stroke="#e8b8b0" stroke-width="3.5" stroke-opacity="0.88"/><path d="M1494.0 420.0L1493.5 450.3" stroke="#e88878" stroke-width="3.5" stroke-opacity="0.88"/><path d="M1493.5 450.0L1493.1 474.3" stroke="#b088c8" stroke-width="3.5" stroke-opacity="0.88"/><path d="M1436.3 418.7L1436.9 430.2" stroke="#e8e060" stroke-width="3.6" stroke-opacity="0.8"/><path d="M1436.9 429.9L1437.3 439.2" stroke="#f0a868" stroke-width="3.6" stroke-opacity="0.8"/><path d="M1437.3 438.9L1438.0 452.7" stroke="#e88878" stroke-width="3.6" stroke-opacity="0.8"/><path d="M1457.3 418.9L1457.6 429.2" stroke="#e8e060" stroke-width="3.6" stroke-opacity="0.8"/><path d="M1457.6 428.9L1457.8 437.7" stroke="#f0a868" stroke-width="3.6" stroke-opacity="0.8"/><path d="M1457.8 437.4L1458.2 449.8" stroke="#e88878" stroke-width="3.6" stroke-opacity="0.8"/><path d="M1371.1 443.9L1372.3 453.6" stroke="#e8e060" stroke-width="3.6" stroke-opacity="0.8"/><path d="M1372.3 453.3L1374.8 473.2" stroke="#f0a868" stroke-width="3.6" stroke-opacity="0.8"/><path d="M1374.8 472.9L1375.8 480.9" stroke="#e88878" stroke-width="3.6" stroke-opacity="0.8"/><path d="M1362.4 407.1L1364.3 421.0" stroke="#e8e060" stroke-width="3.6" stroke-opacity="0.8"/><path d="M1364.3 420.7L1366.5 437.0" stroke="#f0a868" stroke-width="3.6" stroke-opacity="0.8"/><path d="M1366.5 436.7L1368.1 448.6" stroke="#e88878" stroke-width="3.6" stroke-opacity="0.8"/><path d="M1630.6 364.7L1628.3 377.8" stroke="#e8e060" stroke-width="3.6" stroke-opacity="0.8"/><path d="M1628.3 377.5L1626.2 389.9" stroke="#f0a868" stroke-width="3.6" stroke-opacity="0.8"/><path d="M1626.2 389.6L1624.8 397.9" stroke="#e88878" stroke-width="3.6" stroke-opacity="0.8"/><path d="M1364.4 430.1L1366.1 443.0" stroke="#e8e060" stroke-width="3.6" stroke-opacity="0.8"/><path d="M1366.1 442.7L1367.5 453.5" stroke="#f0a868" stroke-width="3.6" stroke-opacity="0.8"/><path d="M1367.5 453.2L1369.4 467.6" stroke="#e88878" stroke-width="3.6" stroke-opacity="0.8"/><path d="M1499.4 381.5L1499.2 392.2" stroke="#e8e060" stroke-width="3.6" stroke-opacity="0.8"/><path d="M1499.2 391.9L1499.0 401.1" stroke="#f0a868" stroke-width="3.6" stroke-opacity="0.8"/><path d="M1499.0 400.8L1498.8 407.9" stroke="#e88878" stroke-width="3.6" stroke-opacity="0.8"/><path d="M1352.8 406.3L1354.3 416.0" stroke="#e8e060" stroke-width="3.6" stroke-opacity="0.8"/><path d="M1354.3 415.7L1356.1 428.4" stroke="#f0a868" stroke-width="3.6" stroke-opacity="0.8"/><path d="M1356.1 428.1L1358.2 442.6" stroke="#e88878" stroke-width="3.6" stroke-opacity="0.8"/><path d="M1456.8 400.9L1457.1 413.6" stroke="#e8e060" stroke-width="3.6" stroke-opacity="0.8"/><path d="M1457.1 413.3L1457.6 431.3" stroke="#f0a868" stroke-width="3.6" stroke-opacity="0.8"/><path d="M1457.6 431.0L1457.8 440.8" stroke="#e88878" stroke-width="3.6" stroke-opacity="0.8"/><path d="M1465.4 380.9L1465.6 394.2" stroke="#e8e060" stroke-width="3.6" stroke-opacity="0.8"/><path d="M1465.6 393.9L1465.9 412.4" stroke="#f0a868" stroke-width="3.6" stroke-opacity="0.8"/><path d="M1465.9 412.1L1466.1 422.4" stroke="#e88878" stroke-width="3.6" stroke-opacity="0.8"/><path d="M1622.9 361.5L1621.4 371.2" stroke="#e8e060" stroke-width="3.6" stroke-opacity="0.8"/><path d="M1621.4 370.9L1618.2 389.8" stroke="#f0a868" stroke-width="3.6" stroke-opacity="0.8"/><path d="M1618.2 389.5L1616.9 397.9" stroke="#e88878" stroke-width="3.6" stroke-opacity="0.8"/><path d="M1494.0 408.6L1493.8 420.3" stroke="#e8e060" stroke-width="3.6" stroke-opacity="0.8"/><path d="M1493.8 420.0L1493.5 439.0" stroke="#f0a868" stroke-width="3.6" stroke-opacity="0.8"/><path d="M1493.5 438.7L1493.3 453.0" stroke="#e88878" stroke-width="3.6" stroke-opacity="0.8"/><path d="M1570.4 363.1L1569.2 374.9" stroke="#e8e060" stroke-width="3.6" stroke-opacity="0.8"/><path d="M1569.2 374.6L1567.4 391.2" stroke="#f0a868" stroke-width="3.6" stroke-opacity="0.8"/><path d="M1567.4 390.9L1565.9 405.4" stroke="#e88878" stroke-width="3.6" stroke-opacity="0.8"/><path d="M1401.2 378.0L1402.4 391.9" stroke="#e8e060" stroke-width="3.6" stroke-opacity="0.8"/><path d="M1402.4 391.6L1403.8 406.5" stroke="#f0a868" stroke-width="3.6" stroke-opacity="0.8"/><path d="M1403.8 406.2L1405.2 421.8" stroke="#e88878" stroke-width="3.6" stroke-opacity="0.8"/><path d="M1313.2 417.9L1315.4 429.4" stroke="#e8e060" stroke-width="3.6" stroke-opacity="0.8"/><path d="M1315.4 429.1L1319.7 451.3" stroke="#f0a868" stroke-width="3.6" stroke-opacity="0.8"/><path d="M1319.7 451.0L1323.1 468.8" stroke="#e88878" stroke-width="3.6" stroke-opacity="0.8"/><path d="M1402.3 412.1L1403.3 423.8" stroke="#e8e060" stroke-width="3.6" stroke-opacity="0.8"/><path d="M1403.3 423.5L1404.1 432.1" stroke="#f0a868" stroke-width="3.6" stroke-opacity="0.8"/><path d="M1404.1 431.8L1405.2 444.5" stroke="#e88878" stroke-width="3.6" stroke-opacity="0.8"/><path d="M1396.1 434.0L1396.8 440.8" stroke="#e8e060" stroke-width="3.6" stroke-opacity="0.8"/><path d="M1396.8 440.5L1398.6 459.5" stroke="#f0a868" stroke-width="3.6" stroke-opacity="0.8"/><path d="M1398.6 459.2L1399.4 467.3" stroke="#e88878" stroke-width="3.6" stroke-opacity="0.8"/><path d="M1391.8 415.1L1393.1 428.4" stroke="#e8e060" stroke-width="3.6" stroke-opacity="0.8"/><path d="M1393.1 428.1L1394.1 437.5" stroke="#f0a868" stroke-width="3.6" stroke-opacity="0.8"/><path d="M1394.1 437.2L1395.3 449.8" stroke="#e88878" stroke-width="3.6" stroke-opacity="0.8"/><path d="M1420.2 368.2L1421.1 381.1" stroke="#e8e060" stroke-width="3.6" stroke-opacity="0.8"/><path d="M1421.1 380.8L1422.5 401.2" stroke="#f0a868" stroke-width="3.6" stroke-opacity="0.8"/><path d="M1422.5 400.9L1423.2 411.1" stroke="#e88878" stroke-width="3.6" stroke-opacity="0.8"/><path d="M1440.3 401.8L1440.9 415.1" stroke="#e8e060" stroke-width="3.6" stroke-opacity="0.8"/><path d="M1440.9 414.8L1441.9 436.5" stroke="#f0a868" stroke-width="3.6" stroke-opacity="0.8"/><path d="M1441.9 436.2L1442.3 444.7" stroke="#e88878" stroke-width="3.6" stroke-opacity="0.8"/><path d="M1387.6 428.3L1388.4 436.5" stroke="#e8e060" stroke-width="3.6" stroke-opacity="0.8"/><path d="M1388.4 436.2L1390.0 451.2" stroke="#f0a868" stroke-width="3.6" stroke-opacity="0.8"/><path d="M1390.0 450.9L1391.6 465.5" stroke="#e88878" stroke-width="3.6" stroke-opacity="0.8"/><path d="M1433.6 430.4L1434.1 440.0" stroke="#e8e060" stroke-width="3.6" stroke-opacity="0.8"/><path d="M1434.1 439.7L1434.9 453.2" stroke="#f0a868" stroke-width="3.6" stroke-opacity="0.8"/><path d="M1434.9 452.9L1435.6 467.1" stroke="#e88878" stroke-width="3.6" stroke-opacity="0.8"/><path d="M1545.7 341.4L1544.9 351.8" stroke="#e8e060" stroke-width="3.6" stroke-opacity="0.8"/><path d="M1544.9 351.5L1543.6 368.4" stroke="#f0a868" stroke-width="3.6" stroke-opacity="0.8"/><path d="M1543.6 368.1L1542.4 383.9" stroke="#e88878" stroke-width="3.6" stroke-opacity="0.8"/><path d="M1293.6 409.8L1296.2 422.3" stroke="#e8e060" stroke-width="3.6" stroke-opacity="0.8"/><path d="M1296.2 422.0L1300.7 442.6" stroke="#f0a868" stroke-width="3.6" stroke-opacity="0.8"/><path d="M1300.7 442.3L1304.5 459.7" stroke="#e88878" stroke-width="3.6" stroke-opacity="0.8"/><path d="M1430.0 402.1L1430.4 409.2" stroke="#e8e060" stroke-width="3.6" stroke-opacity="0.8"/><path d="M1430.4 408.9L1431.4 426.1" stroke="#f0a868" stroke-width="3.6" stroke-opacity="0.8"/><path d="M1431.4 425.8L1431.8 433.0" stroke="#e88878" stroke-width="3.6" stroke-opacity="0.8"/><path d="M1359.7 439.0L1360.7 446.5" stroke="#e8e060" stroke-width="3.6" stroke-opacity="0.8"/><path d="M1360.7 446.2L1362.5 459.3" stroke="#f0a868" stroke-width="3.6" stroke-opacity="0.8"/><path d="M1362.5 459.0L1363.5 466.0" stroke="#e88878" stroke-width="3.6" stroke-opacity="0.8"/><path d="M1346.2 447.4L1347.3 454.6" stroke="#e8e060" stroke-width="3.6" stroke-opacity="0.8"/><path d="M1347.3 454.3L1349.4 467.7" stroke="#f0a868" stroke-width="3.6" stroke-opacity="0.8"/><path d="M1349.4 467.4L1350.4 474.0" stroke="#e88878" stroke-width="3.6" stroke-opacity="0.8"/><path d="M1534.4 351.2L1533.9 358.7" stroke="#e8e060" stroke-width="3.6" stroke-opacity="0.8"/><path d="M1533.9 358.4L1533.2 370.2" stroke="#f0a868" stroke-width="3.6" stroke-opacity="0.8"/><path d="M1533.2 369.9L1532.5 381.1" stroke="#e88878" stroke-width="3.6" stroke-opacity="0.8"/><path d="M1450.4 416.3L1450.8 429.3" stroke="#e8e060" stroke-width="3.6" stroke-opacity="0.8"/><path d="M1450.8 429.0L1451.6 451.2" stroke="#f0a868" stroke-width="3.6" stroke-opacity="0.8"/><path d="M1451.6 450.9L1452.0 463.8" stroke="#e88878" stroke-width="3.6" stroke-opacity="0.8"/><path d="M1487.7 407.1L1487.6 414.2" stroke="#e8e060" stroke-width="3.6" stroke-opacity="0.8"/><path d="M1487.6 413.9L1487.5 427.0" stroke="#f0a868" stroke-width="3.6" stroke-opacity="0.8"/><path d="M1487.5 426.7L1487.4 436.7" stroke="#e88878" stroke-width="3.6" stroke-opacity="0.8"/><path d="M1575.6 373.3L1574.9 379.8" stroke="#e8e060" stroke-width="3.6" stroke-opacity="0.8"/><path d="M1574.9 379.5L1572.5 401.1" stroke="#f0a868" stroke-width="3.6" stroke-opacity="0.8"/><path d="M1572.5 400.8L1571.0 414.5" stroke="#e88878" stroke-width="3.6" stroke-opacity="0.8"/><path d="M1350.3 417.4L1351.2 423.9" stroke="#e8e060" stroke-width="3.6" stroke-opacity="0.8"/><path d="M1351.2 423.6L1353.6 439.3" stroke="#f0a868" stroke-width="3.6" stroke-opacity="0.8"/><path d="M1353.6 439.0L1356.6 459.0" stroke="#e88878" stroke-width="3.6" stroke-opacity="0.8"/><path d="M1521.7 348.9L1521.3 357.3" stroke="#e8e060" stroke-width="3.6" stroke-opacity="0.8"/><path d="M1521.3 357.0L1520.7 370.4" stroke="#f0a868" stroke-width="3.6" stroke-opacity="0.8"/><path d="M1520.7 370.1L1520.3 378.8" stroke="#e88878" stroke-width="3.6" stroke-opacity="0.8"/><path d="M1516.9 363.4L1516.4 375.9" stroke="#e8e060" stroke-width="3.6" stroke-opacity="0.8"/><path d="M1516.4 375.6L1515.8 388.5" stroke="#f0a868" stroke-width="3.6" stroke-opacity="0.8"/><path d="M1515.8 388.2L1515.4 397.6" stroke="#e88878" stroke-width="3.6" stroke-opacity="0.8"/></g>
<g fill="none"><path d="M1547.0 392.0L1545.4 412.3" stroke="#e8b8b0" stroke-width="4.5"/><path d="M1545.4 412.0L1543.4 438.3" stroke="#ff0000" stroke-width="4.5"/><path d="M1543.4 438.0L1542.3 452.3" stroke="#b088c8" stroke-width="4.5"/></g>
<g fill="none"><path d="M1556.0 394.0L1553.9 418.3" stroke="#e8b8b0" stroke-width="4.5"/><path d="M1553.9 418.0L1551.2 448.3" stroke="#ff0000" stroke-width="4.5"/><path d="M1551.2 448.0L1549.7 464.3" stroke="#b088c8" stroke-width="4.5"/></g>
<g fill="none"><path d="M1565.5 396.0L1563.7 414.3" stroke="#e8b8b0" stroke-width="4.5"/><path d="M1563.7 414.0L1560.3 448.3" stroke="#ff0000" stroke-width="4.5"/><path d="M1560.3 448.0L1558.5 466.3" stroke="#b088c8" stroke-width="4.5"/><path d="M1558.5 466.0L1557.5 476.3" stroke="#0000ff" stroke-width="4.5"/><path d="M1557.5 476.0L1556.0 490.3" stroke="#008000" stroke-width="4.5"/><path d="M1556.0 490.0L1555.0 500.3" stroke="#00ffff" stroke-width="4.5"/></g>
<g fill="none"><path d="M1575.5 385.0L1573.9 399.3" stroke="#ffa500" stroke-width="4.2"/><path d="M1573.9 399.0L1571.0 425.3" stroke="#ff0000" stroke-width="4.2"/><path d="M1571.0 425.0L1569.7 437.3" stroke="#b088c8" stroke-width="4.2"/></g>
<g fill="none"><path d="M1588.0 383.0L1586.0 399.3" stroke="#e8b8b0" stroke-width="4.8"/><path d="M1586.0 399.0L1581.6 433.3" stroke="#ff0000" stroke-width="4.8"/><path d="M1581.6 433.0L1579.9 447.3" stroke="#b088c8" stroke-width="4.8"/></g>
<g fill="none"><path d="M1603.5 372.0L1599.7 398.3" stroke="#e8b8b0" stroke-width="5.0"/><path d="M1599.7 398.0L1593.9 438.3" stroke="#ff0000" stroke-width="5.0"/><path d="M1593.9 438.0L1591.9 452.3" stroke="#b088c8" stroke-width="5.0"/><path d="M1591.9 452.0L1590.4 462.3" stroke="#0000ff" stroke-width="5.0"/><path d="M1590.4 462.0L1587.5 482.3" stroke="#008000" stroke-width="5.0"/><path d="M1587.5 482.0L1585.8 494.3" stroke="#00ffff" stroke-width="5.0"/></g>
<g fill="none"><path d="M1611.5 405.0L1609.3 419.3" stroke="#ff0000" stroke-width="4.5"/><path d="M1609.3 419.0L1606.9 435.3" stroke="#0000ff" stroke-width="4.5"/><path d="M1606.9 435.0L1605.6 443.3" stroke="#b088c8" stroke-width="4.5"/></g>
<g fill="none"><path d="M1617.5 374.0L1615.6 386.3" stroke="#ffff00" stroke-width="5.0"/><path d="M1615.6 386.0L1613.3 400.3" stroke="#e8b8b0" stroke-width="5.0"/><path d="M1613.3 400.0L1606.8 440.3" stroke="#ff0000" stroke-width="5.0"/><path d="M1606.8 440.0L1605.5 448.3" stroke="#b088c8" stroke-width="5.0"/><path d="M1605.5 448.0L1602.6 466.3" stroke="#008000" stroke-width="5.0"/><path d="M1602.6 466.0L1600.0 482.3" stroke="#00ffff" stroke-width="5.0"/></g>
<g fill="none"><path d="M1623.5 378.0L1620.1 398.3" stroke="#e8b8b0" stroke-width="4.5"/><path d="M1620.1 398.0L1615.4 426.3" stroke="#ff0000" stroke-width="4.5"/></g>
<g fill="none"><path d="M1641.0 374.0L1638.3 388.3" stroke="#ff0000" stroke-width="4.5"/></g>
<g fill="none"><path d="M1632.0 378.0L1630.2 388.3" stroke="#e8b8b0" stroke-width="4.0"/><path d="M1630.2 388.0L1627.7 402.3" stroke="#ff0000" stroke-width="4.0"/></g>
<path d="M1353.600 520L1356.400 538" stroke="#7a5ce0" stroke-width="4.600"/><path d="M1356.400 538L1357.600 545" stroke="#0a0aff" stroke-width="4.600"/><path d="M1357.600 545L1363.500 584" stroke="#3a9a62" stroke-width="4.200"/>
<path d="M1663 363L1657.3 391" stroke="#ff0000" stroke-width="4.6"/><path d="M1657.3 391L1650.6 414" stroke="#0000ff" stroke-width="4.6"/>
<path d="M1299.8 442L1301.8 452" stroke="#ffff00" stroke-width="4"/><path d="M1301.8 452L1304.3 465" stroke="#ffa500" stroke-width="4"/><path d="M1304.3 465L1306.4 476" stroke="#ee2020" stroke-width="4"/>
<path d="M1308 452L1311.5 468" stroke="#ffff00" stroke-width="3.6"/><path d="M1311.5 468L1316.2 489" stroke="#ffa500" stroke-width="3.6"/>
<path d="M1321.4 471L1324.6 488" stroke="#ffa500" stroke-width="4.4"/><path d="M1324.600 488L1328 505.5" stroke="#ff0000" stroke-width="4.4"/>
<path d="M1347.4 459.0L1630.0 319.0" stroke="#ff0000" stroke-width="1.5"/>
<path d="M1630.0 319.0L1595.3 494.0" stroke="#e03030" stroke-width="1" stroke-opacity="0.55"/>
<path d="M1595.3 494.0L1380.5 667.5" stroke="#c82818" stroke-width="1.2"/>
<path d="M1347.4 459.0L1381.3 668.0" stroke="#ff0000" stroke-width="1.6"/>
<path d="M1343.8 457.8L1347.5 461.9L1351.2 457.8Z" fill="#ffee00" fill-opacity="1"/><path d="M1347.5 452.9L1352.1 457.5L1347.5 462.1L1342.9 457.5Z" fill="none" stroke="#1a1aee" stroke-width="1.3" stroke-opacity="1"/><path d="M1316.5 468.5L1320.2 472.6L1323.9 468.5Z" fill="#ffee00" fill-opacity="1"/><path d="M1320.2 463.6L1324.8 468.2L1320.2 472.8L1315.6 468.2Z" fill="none" stroke="#1a1aee" stroke-width="1.3" stroke-opacity="1"/><path d="M1660.3 358.9L1664.0 363.0L1667.7 358.9Z" fill="#ffee00" fill-opacity="1"/><path d="M1664.0 354.0L1668.6 358.6L1664.0 363.2L1659.4 358.6Z" fill="none" stroke="#1a1aee" stroke-width="1.3" stroke-opacity="1"/><path d="M1647.8 357.3L1651.5 361.4L1655.2 357.3Z" fill="#ffee00" fill-opacity="1"/><path d="M1651.5 352.4L1656.1 357.0L1651.5 361.6L1646.9 357.0Z" fill="none" stroke="#1a1aee" stroke-width="1.3" stroke-opacity="1"/><path d="M1631.8 362.3L1635.5 366.4L1639.2 362.3Z" fill="#ffee00" fill-opacity="1"/><path d="M1635.5 357.4L1640.1 362.0L1635.5 366.6L1630.9 362.0Z" fill="none" stroke="#1a1aee" stroke-width="1.3" stroke-opacity="1"/><path d="M1624.3 368.3L1628.0 372.4L1631.7 368.3Z" fill="#ffee00" fill-opacity="1"/><path d="M1628.0 363.4L1632.6 368.0L1628.0 372.6L1623.4 368.0Z" fill="none" stroke="#1a1aee" stroke-width="1.3" stroke-opacity="1"/><path d="M1611.8 371.3L1615.5 375.4L1619.2 371.3Z" fill="#ffee00" fill-opacity="1"/><path d="M1615.5 366.4L1620.1 371.0L1615.5 375.6L1610.9 371.0Z" fill="none" stroke="#1a1aee" stroke-width="1.3" stroke-opacity="1"/><path d="M1594.8 371.3L1598.5 375.4L1602.2 371.3Z" fill="#ffee00" fill-opacity="1"/><path d="M1598.5 366.4L1603.1 371.0L1598.5 375.6L1593.9 371.0Z" fill="none" stroke="#1a1aee" stroke-width="1.3" stroke-opacity="1"/><path d="M1582.8 381.3L1586.5 385.4L1590.2 381.3Z" fill="#ffee00" fill-opacity="1"/><path d="M1586.5 376.4L1591.1 381.0L1586.5 385.6L1581.9 381.0Z" fill="none" stroke="#1a1aee" stroke-width="1.3" stroke-opacity="1"/><path d="M1561.3 386.3L1565.0 390.4L1568.7 386.3Z" fill="#ffee00" fill-opacity="1"/><path d="M1565.0 381.4L1569.6 386.0L1565.0 390.6L1560.4 386.0Z" fill="none" stroke="#1a1aee" stroke-width="1.3" stroke-opacity="1"/><path d="M1549.8 392.3L1553.5 396.4L1557.2 392.3Z" fill="#ffee00" fill-opacity="1"/><path d="M1553.5 387.4L1558.1 392.0L1553.5 396.6L1548.9 392.0Z" fill="none" stroke="#1a1aee" stroke-width="1.3" stroke-opacity="1"/><path d="M1530.8 397.3L1534.5 401.4L1538.2 397.3Z" fill="#ffee00" fill-opacity="1"/><path d="M1534.5 392.4L1539.1 397.0L1534.5 401.6L1529.9 397.0Z" fill="none" stroke="#1a1aee" stroke-width="1.3" stroke-opacity="1"/><path d="M1520.8 393.3L1524.5 397.4L1528.2 393.3Z" fill="#ffee00" fill-opacity="1"/><path d="M1524.5 388.4L1529.1 393.0L1524.5 397.6L1519.9 393.0Z" fill="none" stroke="#1a1aee" stroke-width="1.3" stroke-opacity="1"/><path d="M1503.3 393.3L1507.0 397.4L1510.7 393.3Z" fill="#ffee00" fill-opacity="1"/><path d="M1507.0 388.4L1511.6 393.0L1507.0 397.6L1502.4 393.0Z" fill="none" stroke="#1a1aee" stroke-width="1.3" stroke-opacity="1"/><path d="M1485.8 385.3L1489.5 389.4L1493.2 385.3Z" fill="#ffee00" fill-opacity="1"/><path d="M1489.5 380.4L1494.1 385.0L1489.5 389.6L1484.9 385.0Z" fill="none" stroke="#1a1aee" stroke-width="1.3" stroke-opacity="1"/><path d="M1470.8 393.3L1474.5 397.4L1478.2 393.3Z" fill="#ffee00" fill-opacity="1"/><path d="M1474.5 388.4L1479.1 393.0L1474.5 397.6L1469.9 393.0Z" fill="none" stroke="#1a1aee" stroke-width="1.3" stroke-opacity="1"/><path d="M1452.8 401.3L1456.5 405.4L1460.2 401.3Z" fill="#ffee00" fill-opacity="1"/><path d="M1456.5 396.4L1461.1 401.0L1456.5 405.6L1451.9 401.0Z" fill="none" stroke="#1a1aee" stroke-width="1.3" stroke-opacity="1"/><path d="M1443.3 404.3L1447.0 408.4L1450.7 404.3Z" fill="#ffee00" fill-opacity="1"/><path d="M1447.0 399.4L1451.6 404.0L1447.0 408.6L1442.4 404.0Z" fill="none" stroke="#1a1aee" stroke-width="1.3" stroke-opacity="1"/><path d="M1424.8 411.3L1428.5 415.4L1432.2 411.3Z" fill="#ffee00" fill-opacity="1"/><path d="M1428.5 406.4L1433.1 411.0L1428.5 415.6L1423.9 411.0Z" fill="none" stroke="#1a1aee" stroke-width="1.3" stroke-opacity="1"/><path d="M1407.3 417.3L1411.0 421.4L1414.7 417.3Z" fill="#ffee00" fill-opacity="1"/><path d="M1411.0 412.4L1415.6 417.0L1411.0 421.6L1406.4 417.0Z" fill="none" stroke="#1a1aee" stroke-width="1.3" stroke-opacity="1"/><path d="M1391.3 425.3L1395.0 429.4L1398.7 425.3Z" fill="#ffee00" fill-opacity="1"/><path d="M1395.0 420.4L1399.6 425.0L1395.0 429.6L1390.4 425.0Z" fill="none" stroke="#1a1aee" stroke-width="1.3" stroke-opacity="1"/><path d="M1370.8 437.3L1374.5 441.4L1378.2 437.3Z" fill="#ffee00" fill-opacity="1"/><path d="M1374.5 432.4L1379.1 437.0L1374.5 441.6L1369.9 437.0Z" fill="none" stroke="#1a1aee" stroke-width="1.3" stroke-opacity="1"/><path d="M1359.8 430.3L1363.5 434.4L1367.2 430.3Z" fill="#ffee00" fill-opacity="1"/><path d="M1363.5 425.4L1368.1 430.0L1363.5 434.6L1358.9 430.0Z" fill="none" stroke="#1a1aee" stroke-width="1.3" stroke-opacity="1"/><path d="M1349.8 424.3L1353.5 428.4L1357.2 424.3Z" fill="#ffee00" fill-opacity="1"/><path d="M1353.5 419.4L1358.1 424.0L1353.5 428.6L1348.9 424.0Z" fill="none" stroke="#1a1aee" stroke-width="1.3" stroke-opacity="1"/><path d="M1339.8 418.3L1343.5 422.4L1347.2 418.3Z" fill="#ffee00" fill-opacity="1"/><path d="M1343.5 413.4L1348.1 418.0L1343.5 422.6L1338.9 418.0Z" fill="none" stroke="#1a1aee" stroke-width="1.3" stroke-opacity="1"/><path d="M1328.8 436.3L1332.5 440.4L1336.2 436.3Z" fill="#ffee00" fill-opacity="1"/><path d="M1332.5 431.4L1337.1 436.0L1332.5 440.6L1327.9 436.0Z" fill="none" stroke="#1a1aee" stroke-width="1.3" stroke-opacity="1"/><path d="M1304.3 427.3L1308.0 431.4L1311.7 427.3Z" fill="#ffee00" fill-opacity="1"/><path d="M1308.0 422.4L1312.6 427.0L1308.0 431.6L1303.4 427.0Z" fill="none" stroke="#1a1aee" stroke-width="1.3" stroke-opacity="1"/><path d="M1289.8 416.3L1293.5 420.4L1297.2 416.3Z" fill="#ffee00" fill-opacity="1"/><path d="M1293.5 411.4L1298.1 416.0L1293.5 420.6L1288.9 416.0Z" fill="none" stroke="#1a1aee" stroke-width="1.3" stroke-opacity="1"/><path d="M1277.3 396.3L1281.0 400.4L1284.7 396.3Z" fill="#ffee00" fill-opacity="1"/><path d="M1281.0 391.4L1285.6 396.0L1281.0 400.6L1276.4 396.0Z" fill="none" stroke="#1a1aee" stroke-width="1.3" stroke-opacity="1"/><path d="M1265.8 389.3L1269.5 393.4L1273.2 389.3Z" fill="#ffee00" fill-opacity="1"/><path d="M1269.5 384.4L1274.1 389.0L1269.5 393.6L1264.9 389.0Z" fill="none" stroke="#1a1aee" stroke-width="1.3" stroke-opacity="1"/><path d="M1292.3 393.3L1296.0 397.4L1299.7 393.3Z" fill="#ffee00" fill-opacity="1"/><path d="M1296.0 388.4L1300.6 393.0L1296.0 397.6L1291.4 393.0Z" fill="none" stroke="#1a1aee" stroke-width="1.3" stroke-opacity="1"/><path d="M1307.3 399.3L1311.0 403.4L1314.7 399.3Z" fill="#ffee00" fill-opacity="1"/><path d="M1311.0 394.4L1315.6 399.0L1311.0 403.6L1306.4 399.0Z" fill="none" stroke="#1a1aee" stroke-width="1.3" stroke-opacity="1"/><path d="M1319.3 393.3L1323.0 397.4L1326.7 393.3Z" fill="#ffee00" fill-opacity="1"/><path d="M1323.0 388.4L1327.6 393.0L1323.0 397.6L1318.4 393.0Z" fill="none" stroke="#1a1aee" stroke-width="1.3" stroke-opacity="1"/><path d="M1333.3 404.3L1337.0 408.4L1340.7 404.3Z" fill="#ffee00" fill-opacity="1"/><path d="M1337.0 399.4L1341.6 404.0L1337.0 408.6L1332.4 404.0Z" fill="none" stroke="#1a1aee" stroke-width="1.3" stroke-opacity="1"/><path d="M1368.8 407.3L1372.5 411.4L1376.2 407.3Z" fill="#ffee00" fill-opacity="1"/><path d="M1372.5 402.4L1377.1 407.0L1372.5 411.6L1367.9 407.0Z" fill="none" stroke="#1a1aee" stroke-width="1.3" stroke-opacity="1"/><path d="M1354.3 365.3L1358.0 369.4L1361.7 365.3Z" fill="#ffee00" fill-opacity="1"/><path d="M1358.0 360.4L1362.6 365.0L1358.0 369.6L1353.4 365.0Z" fill="none" stroke="#1a1aee" stroke-width="1.3" stroke-opacity="1"/><path d="M1412.3 384.3L1416.0 388.4L1419.7 384.3Z" fill="#ffee00" fill-opacity="1"/><path d="M1416.0 379.4L1420.6 384.0L1416.0 388.6L1411.4 384.0Z" fill="none" stroke="#1a1aee" stroke-width="1.3" stroke-opacity="1"/><path d="M1391.3 396.3L1395.0 400.4L1398.7 396.3Z" fill="#ffee00" fill-opacity="1"/><path d="M1395.0 391.4L1399.6 396.0L1395.0 400.6L1390.4 396.0Z" fill="none" stroke="#1a1aee" stroke-width="1.3" stroke-opacity="1"/><path d="M1401.8 373.3L1405.5 377.4L1409.2 373.3Z" fill="#ffee00" fill-opacity="1"/><path d="M1405.5 368.4L1410.1 373.0L1405.5 377.6L1400.9 373.0Z" fill="none" stroke="#1a1aee" stroke-width="1.3" stroke-opacity="1"/><path d="M1432.3 375.3L1436.0 379.4L1439.7 375.3Z" fill="#ffee00" fill-opacity="1"/><path d="M1436.0 370.4L1440.6 375.0L1436.0 379.6L1431.4 375.0Z" fill="none" stroke="#1a1aee" stroke-width="1.3" stroke-opacity="1"/><path d="M1456.8 380.3L1460.5 384.4L1464.2 380.3Z" fill="#ffee00" fill-opacity="1"/><path d="M1460.5 375.4L1465.1 380.0L1460.5 384.6L1455.9 380.0Z" fill="none" stroke="#1a1aee" stroke-width="1.3" stroke-opacity="1"/><path d="M1496.3 349.3L1500.0 353.4L1503.7 349.3Z" fill="#ffee00" fill-opacity="1"/><path d="M1500.0 344.4L1504.6 349.0L1500.0 353.6L1495.4 349.0Z" fill="none" stroke="#1a1aee" stroke-width="1.3" stroke-opacity="1"/><path d="M1526.3 350.3L1530.0 354.4L1533.7 350.3Z" fill="#ffee00" fill-opacity="1"/><path d="M1530.0 345.4L1534.6 350.0L1530.0 354.6L1525.4 350.0Z" fill="none" stroke="#1a1aee" stroke-width="1.3" stroke-opacity="1"/><path d="M1544.3 343.3L1548.0 347.4L1551.7 343.3Z" fill="#ffee00" fill-opacity="1"/><path d="M1548.0 338.4L1552.6 343.0L1548.0 347.6L1543.4 343.0Z" fill="none" stroke="#1a1aee" stroke-width="1.3" stroke-opacity="1"/><path d="M1566.3 352.3L1570.0 356.4L1573.7 352.3Z" fill="#ffee00" fill-opacity="1"/><path d="M1570.0 347.4L1574.6 352.0L1570.0 356.6L1565.4 352.0Z" fill="none" stroke="#1a1aee" stroke-width="1.3" stroke-opacity="1"/><path d="M1588.3 343.3L1592.0 347.4L1595.7 343.3Z" fill="#ffee00" fill-opacity="1"/><path d="M1592.0 338.4L1596.6 343.0L1592.0 347.6L1587.4 343.0Z" fill="none" stroke="#1a1aee" stroke-width="1.3" stroke-opacity="1"/><path d="M1462.3 333.3L1466.0 337.4L1469.7 333.3Z" fill="#ffee00" fill-opacity="1"/><path d="M1466.0 328.4L1470.6 333.0L1466.0 337.6L1461.4 333.0Z" fill="none" stroke="#1a1aee" stroke-width="1.3" stroke-opacity="1"/><path d="M1374.3 342.3L1378.0 346.4L1381.7 342.3Z" fill="#ffee00" fill-opacity="1"/><path d="M1378.0 337.4L1382.6 342.0L1378.0 346.6L1373.4 342.0Z" fill="none" stroke="#1a1aee" stroke-width="1.3" stroke-opacity="1"/><path d="M1609.5 401.8L1613.7 406.0L1609.5 410.2L1605.3 406.0Z" fill="none" stroke="#1a1aee" stroke-width="1.3" stroke-opacity="1"/><path d="M1393.5 438.8L1397.7 443.0L1393.5 447.2L1389.3 443.0Z" fill="none" stroke="#1a1aee" stroke-width="1.3" stroke-opacity="0.45"/><path d="M1432.5 435.8L1436.7 440.0L1432.5 444.2L1428.3 440.0Z" fill="none" stroke="#1a1aee" stroke-width="1.3" stroke-opacity="0.45"/><path d="M1507.5 431.8L1511.7 436.0L1507.5 440.2L1503.3 436.0Z" fill="none" stroke="#1a1aee" stroke-width="1.3" stroke-opacity="0.45"/><path d="M1453.0 450.8L1457.2 455.0L1453.0 459.2L1448.8 455.0Z" fill="none" stroke="#1a1aee" stroke-width="1.3" stroke-opacity="0.45"/><path d="M1336.0 481.8L1340.2 486.0L1336.0 490.2L1331.8 486.0Z" fill="none" stroke="#1a1aee" stroke-width="1.3" stroke-opacity="0.45"/><path d="M1354.0 482.8L1358.2 487.0L1354.0 491.2L1349.8 487.0Z" fill="none" stroke="#1a1aee" stroke-width="1.3" stroke-opacity="0.45"/><path d="M1442.6 320.1L1447.0 324.5L1442.6 328.9L1438.2 324.5Z" fill="none" stroke="#1a1aee" stroke-width="1.3" stroke-opacity="0.9"/><path d="M1465.4 328.8L1469.8 333.2L1465.4 337.6L1461.0 333.2Z" fill="none" stroke="#1a1aee" stroke-width="1.3" stroke-opacity="0.9"/><path d="M1348.8 400.6L1352.3 404.5L1355.8 400.6Z" fill="#ffee00" fill-opacity="0.9"/><path d="M1352.3 395.9L1356.7 400.3L1352.3 404.7L1347.9 400.3Z" fill="none" stroke="#1a1aee" stroke-width="1.3" stroke-opacity="0.9"/><path d="M1349.1 445.1L1352.6 449.0L1356.1 445.1Z" fill="#ffee00" fill-opacity="0.9"/><path d="M1352.6 440.4L1357.0 444.8L1352.6 449.2L1348.2 444.8Z" fill="none" stroke="#1a1aee" stroke-width="1.3" stroke-opacity="0.9"/><path d="M1340.1 383.7L1344.5 388.1L1340.1 392.5L1335.7 388.1Z" fill="none" stroke="#1a1aee" stroke-width="1.3" stroke-opacity="0.9"/><path d="M1358.0 354.3L1362.4 358.7L1358.0 363.1L1353.6 358.7Z" fill="none" stroke="#1a1aee" stroke-width="1.3" stroke-opacity="0.9"/><path d="M1568.8 342.5L1572.3 346.3L1575.8 342.5Z" fill="#ffee00" fill-opacity="0.9"/><path d="M1572.3 337.8L1576.7 342.2L1572.3 346.6L1567.9 342.2Z" fill="none" stroke="#1a1aee" stroke-width="1.3" stroke-opacity="0.9"/><path d="M1386.9 417.7L1390.4 421.6L1393.9 417.7Z" fill="#ffee00" fill-opacity="0.9"/><path d="M1390.4 413.0L1394.8 417.4L1390.4 421.8L1386.0 417.4Z" fill="none" stroke="#1a1aee" stroke-width="1.3" stroke-opacity="0.9"/><path d="M1407.5 340.7L1411.9 345.1L1407.5 349.5L1403.1 345.1Z" fill="none" stroke="#1a1aee" stroke-width="1.3" stroke-opacity="0.9"/><path d="M1403.0 366.1L1407.4 370.5L1403.0 374.9L1398.6 370.5Z" fill="none" stroke="#1a1aee" stroke-width="1.3" stroke-opacity="0.9"/><path d="M1297.9 400.9L1302.3 405.3L1297.9 409.7L1293.5 405.3Z" fill="none" stroke="#1a1aee" stroke-width="1.3" stroke-opacity="0.9"/><path d="M1465.5 339.0L1469.1 342.9L1472.6 339.0Z" fill="#ffee00" fill-opacity="0.9"/><path d="M1469.1 334.3L1473.5 338.7L1469.1 343.1L1464.7 338.7Z" fill="none" stroke="#1a1aee" stroke-width="1.3" stroke-opacity="0.9"/><path d="M1304.1 390.4L1307.7 394.3L1311.2 390.4Z" fill="#ffee00" fill-opacity="0.9"/><path d="M1307.7 385.7L1312.1 390.1L1307.7 394.5L1303.3 390.1Z" fill="none" stroke="#1a1aee" stroke-width="1.3" stroke-opacity="0.9"/><path d="M1438.4 326.4L1441.9 330.3L1445.4 326.4Z" fill="#ffee00" fill-opacity="0.9"/><path d="M1441.9 321.7L1446.3 326.1L1441.9 330.5L1437.5 326.1Z" fill="none" stroke="#1a1aee" stroke-width="1.3" stroke-opacity="0.9"/><path d="M1345.2 357.8L1349.6 362.2L1345.2 366.6L1340.8 362.2Z" fill="none" stroke="#1a1aee" stroke-width="1.3" stroke-opacity="0.9"/><path d="M1378.8 426.7L1382.3 430.6L1385.8 426.7Z" fill="#ffee00" fill-opacity="0.9"/><path d="M1382.3 422.0L1386.7 426.4L1382.3 430.8L1377.9 426.4Z" fill="none" stroke="#1a1aee" stroke-width="1.3" stroke-opacity="0.9"/><path d="M1489.0 325.4L1492.5 329.3L1496.0 325.4Z" fill="#ffee00" fill-opacity="0.9"/><path d="M1492.5 320.7L1496.9 325.1L1492.5 329.5L1488.1 325.1Z" fill="none" stroke="#1a1aee" stroke-width="1.3" stroke-opacity="0.9"/><path d="M1443.5 323.7L1447.0 327.6L1450.6 323.7Z" fill="#ffee00" fill-opacity="0.9"/><path d="M1447.0 319.0L1451.4 323.4L1447.0 327.8L1442.6 323.4Z" fill="none" stroke="#1a1aee" stroke-width="1.3" stroke-opacity="0.9"/><path d="M1378.4 387.8L1381.9 391.7L1385.4 387.8Z" fill="#ffee00" fill-opacity="0.9"/><path d="M1381.9 383.1L1386.3 387.5L1381.9 391.9L1377.5 387.5Z" fill="none" stroke="#1a1aee" stroke-width="1.3" stroke-opacity="0.9"/><path d="M1374.9 352.2L1378.4 356.1L1381.9 352.2Z" fill="#ffee00" fill-opacity="0.9"/><path d="M1378.4 347.5L1382.8 351.9L1378.4 356.3L1374.0 351.9Z" fill="none" stroke="#1a1aee" stroke-width="1.3" stroke-opacity="0.9"/><path d="M1477.6 327.4L1481.1 331.3L1484.6 327.4Z" fill="#ffee00" fill-opacity="0.9"/><path d="M1481.1 322.7L1485.5 327.1L1481.1 331.5L1476.7 327.1Z" fill="none" stroke="#1a1aee" stroke-width="1.3" stroke-opacity="0.9"/><path d="M1382.5 410.3L1386.0 414.2L1389.5 410.3Z" fill="#ffee00" fill-opacity="0.9"/><path d="M1386.0 405.6L1390.4 410.0L1386.0 414.4L1381.6 410.0Z" fill="none" stroke="#1a1aee" stroke-width="1.3" stroke-opacity="0.9"/><path d="M1480.8 381.4L1484.3 385.3L1487.9 381.4Z" fill="#ffee00" fill-opacity="0.9"/><path d="M1484.3 376.7L1488.7 381.1L1484.3 385.5L1479.9 381.1Z" fill="none" stroke="#1a1aee" stroke-width="1.3" stroke-opacity="0.9"/><path d="M1278.1 388.0L1281.6 391.9L1285.1 388.0Z" fill="#ffee00" fill-opacity="0.9"/><path d="M1281.6 383.3L1286.0 387.7L1281.6 392.1L1277.2 387.7Z" fill="none" stroke="#1a1aee" stroke-width="1.3" stroke-opacity="0.9"/><path d="M1406.4 371.7L1410.8 376.1L1406.4 380.5L1402.0 376.1Z" fill="none" stroke="#1a1aee" stroke-width="1.3" stroke-opacity="0.9"/><path d="M1350.2 362.3L1353.8 366.2L1357.3 362.3Z" fill="#ffee00" fill-opacity="0.9"/><path d="M1353.8 357.6L1358.2 362.0L1353.8 366.4L1349.4 362.0Z" fill="none" stroke="#1a1aee" stroke-width="1.3" stroke-opacity="0.9"/><path d="M1430.5 372.8L1434.0 376.7L1437.5 372.8Z" fill="#ffee00" fill-opacity="0.9"/><path d="M1434.0 368.1L1438.4 372.5L1434.0 376.9L1429.6 372.5Z" fill="none" stroke="#1a1aee" stroke-width="1.3" stroke-opacity="0.9"/><path d="M1449.4 398.8L1452.9 402.6L1456.4 398.8Z" fill="#ffee00" fill-opacity="0.9"/><path d="M1452.9 394.1L1457.3 398.5L1452.9 402.9L1448.5 398.5Z" fill="none" stroke="#1a1aee" stroke-width="1.3" stroke-opacity="0.9"/><path d="M1553.4 366.2L1556.9 370.1L1560.4 366.2Z" fill="#ffee00" fill-opacity="0.9"/><path d="M1556.9 361.5L1561.3 365.9L1556.9 370.3L1552.5 365.9Z" fill="none" stroke="#1a1aee" stroke-width="1.3" stroke-opacity="0.9"/><path d="M1478.0 353.8L1481.5 357.7L1485.1 353.8Z" fill="#ffee00" fill-opacity="0.9"/><path d="M1481.5 349.1L1485.9 353.5L1481.5 357.9L1477.1 353.5Z" fill="none" stroke="#1a1aee" stroke-width="1.3" stroke-opacity="0.9"/><path d="M1426.1 367.7L1430.5 372.1L1426.1 376.5L1421.7 372.1Z" fill="none" stroke="#1a1aee" stroke-width="1.3" stroke-opacity="0.9"/><path d="M1311.4 409.1L1314.9 413.0L1318.4 409.1Z" fill="#ffee00" fill-opacity="0.9"/><path d="M1314.9 404.4L1319.3 408.8L1314.9 413.2L1310.5 408.8Z" fill="none" stroke="#1a1aee" stroke-width="1.3" stroke-opacity="0.9"/><path d="M1331.6 382.6L1335.1 386.5L1338.6 382.6Z" fill="#ffee00" fill-opacity="0.9"/><path d="M1335.1 377.9L1339.5 382.3L1335.1 386.7L1330.7 382.3Z" fill="none" stroke="#1a1aee" stroke-width="1.3" stroke-opacity="0.9"/><path d="M1410.4 353.3L1414.8 357.7L1410.4 362.1L1406.0 357.7Z" fill="none" stroke="#1a1aee" stroke-width="1.3" stroke-opacity="0.9"/><path d="M1395.1 376.2L1398.6 380.1L1402.2 376.2Z" fill="#ffee00" fill-opacity="0.9"/><path d="M1398.6 371.5L1403.0 375.9L1398.6 380.3L1394.2 375.9Z" fill="none" stroke="#1a1aee" stroke-width="1.3" stroke-opacity="0.9"/><path d="M1402.9 365.9L1406.4 369.8L1410.0 365.9Z" fill="#ffee00" fill-opacity="0.9"/><path d="M1406.4 361.2L1410.8 365.6L1406.4 370.0L1402.0 365.6Z" fill="none" stroke="#1a1aee" stroke-width="1.3" stroke-opacity="0.9"/><path d="M1440.4 370.3L1444.8 374.7L1440.4 379.1L1436.0 374.7Z" fill="none" stroke="#1a1aee" stroke-width="1.3" stroke-opacity="0.9"/><path d="M1429.8 335.3L1434.2 339.7L1429.8 344.1L1425.4 339.7Z" fill="none" stroke="#1a1aee" stroke-width="1.3" stroke-opacity="0.9"/><path d="M1356.2 390.7L1360.6 395.1L1356.2 399.5L1351.8 395.1Z" fill="none" stroke="#1a1aee" stroke-width="1.3" stroke-opacity="0.9"/><path d="M1570.2 364.1L1573.7 368.0L1577.2 364.1Z" fill="#ffee00" fill-opacity="0.9"/><path d="M1573.7 359.4L1578.1 363.8L1573.7 368.2L1569.3 363.8Z" fill="none" stroke="#1a1aee" stroke-width="1.3" stroke-opacity="0.9"/><path d="M1464.1 404.3L1467.6 408.2L1471.2 404.3Z" fill="#ffee00" fill-opacity="0.9"/><path d="M1467.6 399.6L1472.0 404.0L1467.6 408.4L1463.2 404.0Z" fill="none" stroke="#1a1aee" stroke-width="1.3" stroke-opacity="0.9"/><path d="M1293.8 401.5L1298.2 405.9L1293.8 410.3L1289.4 405.9Z" fill="none" stroke="#1a1aee" stroke-width="1.3" stroke-opacity="0.9"/><path d="M1587.5 353.3L1591.9 357.7L1587.5 362.1L1583.1 357.7Z" fill="none" stroke="#1a1aee" stroke-width="1.3" stroke-opacity="0.9"/><path d="M1521.2 375.8L1525.6 380.2L1521.2 384.6L1516.8 380.2Z" fill="none" stroke="#1a1aee" stroke-width="1.3" stroke-opacity="0.9"/><path d="M1597.8 343.6L1602.2 348.0L1597.8 352.4L1593.4 348.0Z" fill="none" stroke="#1a1aee" stroke-width="1.3" stroke-opacity="0.9"/><path d="M1402.5 382.0L1406.9 386.4L1402.5 390.8L1398.1 386.4Z" fill="none" stroke="#1a1aee" stroke-width="1.3" stroke-opacity="0.9"/><path d="M1564.4 363.6L1568.0 367.5L1571.5 363.6Z" fill="#ffee00" fill-opacity="0.9"/><path d="M1568.0 358.9L1572.4 363.3L1568.0 367.7L1563.6 363.3Z" fill="none" stroke="#1a1aee" stroke-width="1.3" stroke-opacity="0.9"/><path d="M1450.4 383.8L1453.9 387.6L1457.4 383.8Z" fill="#ffee00" fill-opacity="0.9"/><path d="M1453.9 379.1L1458.3 383.5L1453.9 387.9L1449.5 383.5Z" fill="none" stroke="#1a1aee" stroke-width="1.3" stroke-opacity="0.9"/><path d="M1348.5 381.6L1352.0 385.4L1355.5 381.6Z" fill="#ffee00" fill-opacity="0.9"/><path d="M1352.0 376.9L1356.4 381.3L1352.0 385.7L1347.6 381.3Z" fill="none" stroke="#1a1aee" stroke-width="1.3" stroke-opacity="0.9"/><path d="M1447.5 375.1L1451.1 379.0L1454.6 375.1Z" fill="#ffee00" fill-opacity="0.9"/><path d="M1451.1 370.4L1455.5 374.8L1451.1 379.2L1446.7 374.8Z" fill="none" stroke="#1a1aee" stroke-width="1.3" stroke-opacity="0.9"/><path d="M1364.0 385.6L1367.5 389.5L1371.0 385.6Z" fill="#ffee00" fill-opacity="0.9"/><path d="M1367.5 380.9L1371.9 385.3L1367.5 389.7L1363.1 385.3Z" fill="none" stroke="#1a1aee" stroke-width="1.3" stroke-opacity="0.9"/><path d="M1612.9 353.5L1616.5 357.4L1620.0 353.5Z" fill="#ffee00" fill-opacity="0.9"/><path d="M1616.5 348.8L1620.9 353.2L1616.5 357.6L1612.1 353.2Z" fill="none" stroke="#1a1aee" stroke-width="1.3" stroke-opacity="0.9"/><path d="M1269.4 403.2L1272.9 407.1L1276.5 403.2Z" fill="#ffee00" fill-opacity="0.9"/><path d="M1272.9 398.5L1277.3 402.9L1272.9 407.3L1268.5 402.9Z" fill="none" stroke="#1a1aee" stroke-width="1.3" stroke-opacity="0.9"/><path d="M1336.9 409.8L1341.3 414.2L1336.9 418.6L1332.5 414.2Z" fill="none" stroke="#1a1aee" stroke-width="1.3" stroke-opacity="0.9"/><path d="M1546.5 360.1L1550.0 364.0L1553.5 360.1Z" fill="#ffee00" fill-opacity="0.9"/><path d="M1550.0 355.4L1554.4 359.8L1550.0 364.2L1545.6 359.8Z" fill="none" stroke="#1a1aee" stroke-width="1.3" stroke-opacity="0.9"/><path d="M1531.5 331.0L1535.9 335.4L1531.5 339.8L1527.1 335.4Z" fill="none" stroke="#1a1aee" stroke-width="1.3" stroke-opacity="0.9"/><path d="M1363.4 437.9L1366.9 441.8L1370.5 437.9Z" fill="#ffee00" fill-opacity="0.9"/><path d="M1366.9 433.2L1371.3 437.6L1366.9 442.0L1362.5 437.6Z" fill="none" stroke="#1a1aee" stroke-width="1.3" stroke-opacity="0.9"/><path d="M1462.8 401.2L1467.2 405.6L1462.8 410.0L1458.4 405.6Z" fill="none" stroke="#1a1aee" stroke-width="1.3" stroke-opacity="0.9"/>
<text x="1347.00" y="473.50" font-size="12.50" fill="#b47c80" text-anchor="start" textLength="22.00" lengthAdjust="spacing" fill-opacity="0.85">606</text>
<text x="1404.00" y="440.00" font-size="12.50" fill="#c09aa0" text-anchor="start" textLength="92.00" lengthAdjust="spacing" fill-opacity="0.75">0.9999999999999</text>
<text x="1479.00" y="419.00" font-size="12.50" fill="#c09aa0" text-anchor="start" textLength="91.00" lengthAdjust="spacing" fill-opacity="0.7">0.9999999999</text>
<text x="1440.00" y="411.00" font-size="12.50" fill="#b8a0a8" text-anchor="start" textLength="50.00" lengthAdjust="spacing" fill-opacity="0.6">0.99999</text>
<g font-size="13.2" fill="#2a3f5f" fill-opacity="0.93" text-anchor="middle" letter-spacing="0.15"><text x="1446.5" y="352.9">SPE4787</text><text x="1417.6" y="336.2">PE4744</text><text x="1386.9" y="330.5">SP90</text><text x="1466.5" y="334.4">SC5644</text><text x="1347.9" y="333.0">SPE4812</text><text x="1433.2" y="330.8">SPR4841</text><text x="1414.1" y="341.8">SC5174</text><text x="1379.4" y="332.3">SPE2491</text><text x="1478.9" y="324.5">SH2465</text><text x="1484.3" y="348.1">SP86</text><text x="1391.9" y="340.5">SC5644</text><text x="1500.6" y="343.7">SPD4814</text><text x="1394.5" y="336.8">SPE4852</text><text x="1420.9" y="342.1">SPE2441</text><text x="1359.4" y="338.4">SPC5160 BIS</text><text x="1393.7" y="332.4">SPC5594</text><text x="1470.4" y="345.5">SPE4673</text><text x="1460.9" y="347.2">SPC5175</text><text x="1462.4" y="353.2">SPC5577</text><text x="1436.0" y="353.3">SPE4897</text><text x="1487.9" y="348.6">SPD4820 BIS</text><text x="1366.3" y="337.0">SD4858</text><text x="1434.4" y="346.6">SPD4872</text><text x="1418.1" y="326.5">SPE4794</text><text x="1464.3" y="341.1">SPE4743</text><text x="1466.0" y="332.3">D4873</text><text x="1446.2" y="331.1">SPC5552</text><text x="1463.9" y="335.0">SPC5511</text><text x="1422.7" y="359.0">SD4898</text><text x="1423.3" y="349.5">SP69</text><text x="1432.9" y="335.2">SPE4770 BIS</text><text x="1418.4" y="353.5">D4844</text><text x="1464.6" y="333.4">Spc5526</text><text x="1446.1" y="334.1">SD4856</text><text x="1488.6" y="341.5">SPE4830 BIS</text><text x="1423.7" y="340.2">SP28</text><text x="1405.2" y="328.4">SPE4610</text><text x="1399.1" y="338.3">SPE2411</text><text x="1391.4" y="337.4">SC5159</text><text x="1439.3" y="337.0">PE4745</text><text x="1450.9" y="346.9">SPC5541</text><text x="1414.8" y="335.4">Spc5564</text><text x="1474.9" y="346.7">SPE2420 BIS</text><text x="1462.2" y="340.2">SPC5592</text><text x="1422.7" y="356.8">SPC5531</text><text x="1400.0" y="334.7">SH2461</text><text x="1393.1" y="344.1">SC5125</text><text x="1370.9" y="331.5">SPR4880</text><text x="1417.0" y="329.0">SPE2441 BIS</text><text x="1399.7" y="327.3">SPD4857</text><text x="1436.1" y="355.9">PE4759</text><text x="1428.9" y="337.6">SPE4617</text><text x="1436.9" y="337.0">SPE2421</text><text x="1384.8" y="338.4">D4865</text><text x="1458.5" y="356.2">SPR4885</text><text x="1493.5" y="343.0">D4867</text><text x="1362.4" y="329.6">SD4899</text><text x="1467.4" y="340.5">SPC5110</text><text x="1448.3" y="334.9">SPC5590</text><text x="1446.8" y="349.1">SD4822 BIS</text><text x="1428.9" y="345.0">SC5143</text><text x="1393.2" y="340.6">SPE4692</text><text x="1383.8" y="342.9">SPD4813</text><text x="1457.7" y="335.1">SPE4834</text><text x="1452.9" y="339.1">SH2439</text><text x="1493.0" y="332.2">SPC5199</text><text x="1412.3" y="348.6">SPE2410</text><text x="1463.3" y="342.2">SPE2473</text><text x="1394.9" y="353.5">SPD4869</text><text x="1466.7" y="334.6">SPR4888</text><text x="1380.7" y="339.0">SPC5186</text><text x="1408.0" y="331.7">SPC5563 BIS</text><text x="1354.6" y="338.2">SPE4624</text><text x="1494.1" y="335.9">SC5693</text><text x="1464.4" y="325.1">SC5157</text><text x="1415.8" y="327.9">SPE4745 BIS</text><text x="1412.2" y="355.9">SPE2458</text><text x="1476.5" y="353.6">PE4721 BIS</text><text x="1420.8" y="337.4">D4834</text><text x="1463.0" y="341.1">PE4741</text><text x="1467.7" y="325.5">SPC5169 BIS</text><text x="1492.2" y="333.3">SPE4787</text><text x="1443.7" y="333.4">SPE4645</text><text x="1460.5" y="345.4">SPE4713</text><text x="1362.2" y="349.8">D4859</text><text x="1366.2" y="341.9">SPE4848</text><text x="1468.6" y="345.9">SPE4650</text><text x="1470.4" y="345.4">SPE2460</text><text x="1387.4" y="327.0">SD4863</text><text x="1458.6" y="340.1">SPD4827</text><text x="1444.2" y="348.3">SD4847</text><text x="1435.7" y="337.4">SH2435</text><text x="1374.7" y="332.5">SP84</text><text x="1355.4" y="333.1">SPD4874</text><text x="1448.9" y="327.6">D4814 BIS</text><text x="1421.0" y="353.5">D4857 BIS</text><text x="1392.0" y="328.3">SPE2486</text><text x="1438.3" y="357.5">Spc5575</text><text x="1416.9" y="333.4">SPE4823</text><text x="1458.6" y="336.6">SPC5157</text><text x="1476.0" y="338.7">Spc5533</text><text x="1424.3" y="341.4">PE4722</text><text x="1451.2" y="329.6">SPE4793</text><text x="1456.3" y="338.8">SP95</text><text x="1497.5" y="335.2">Spc5563</text><text x="1403.2" y="331.1">SC5136</text><text x="1414.5" y="329.6">SD4821</text><text x="1486.3" y="340.6">SC5626 BIS</text><text x="1433.2" y="347.1">SC5121</text><text x="1493.4" y="350.5">SC5628</text><text x="1370.9" y="330.2">SPE4723</text><text x="1465.6" y="352.5">SPE2448</text><text x="1422.2" y="325.9">SC5121</text><text x="1444.3" y="353.7">SC5691</text><text x="1380.5" y="338.6">SPE2470</text><text x="1379.9" y="338.4">SC5659</text><text x="1475.5" y="330.9">SPC5195</text><text x="1363.8" y="345.6">SP93</text><text x="1438.2" y="339.3">Spc5567</text><text x="1502.8" y="340.7">D4889</text><text x="1418.3" y="330.5">SPR4861 BIS</text><text x="1365.6" y="339.5">SPE4766</text><text x="1450.1" y="325.5">SPC5520</text><text x="1395.2" y="349.9">SPE4716</text><text x="1488.2" y="347.5">SPC5513</text><text x="1504.4" y="350.4">SD4834</text><text x="1486.7" y="334.4">SC5697</text><text x="1493.9" y="326.4">Spc5588</text><text x="1389.0" y="353.4">SPC5542</text><text x="1492.2" y="331.5">SH2488</text><text x="1374.1" y="329.8">SH2496</text><text x="1405.3" y="352.5">SH2424</text><text x="1499.6" y="340.3">SD4842</text><text x="1445.8" y="338.2">Spc5543</text><text x="1404.0" y="329.3">SPE4620</text><text x="1373.3" y="350.8">SPC5147</text><text x="1385.6" y="347.0">SPE4610</text><text x="1380.5" y="334.5">PE4763</text><text x="1488.3" y="328.8">SPD4888</text><text x="1401.8" y="327.8">Spc5578</text><text x="1451.6" y="339.5">SPE2456</text><text x="1441.1" y="329.1">SPD4829</text><text x="1401.2" y="329.3">SH2461</text><text x="1474.6" y="346.5">D4887</text><text x="1466.2" y="331.7">SPE4815 BIS</text><text x="1458.7" y="330.5">PE4735</text><text x="1457.3" y="340.9">PE4788</text><text x="1425.0" y="332.9">SPC5171</text><text x="1467.3" y="336.7">D4832</text><text x="1405.2" y="331.3">SPC5125</text><text x="1467.7" y="342.0">SH2416</text><text x="1448.7" y="336.0">SH2447</text><text x="1488.6" y="331.0">SPE4831</text><text x="1417.9" y="343.1">SC5651</text><text x="1432.7" y="339.8">SC5190</text><text x="1490.2" y="345.4">SPR4870</text><text x="1462.7" y="345.7">PE4739</text><text x="1424.9" y="330.9">SPE4782</text><text x="1428.5" y="329.3">SPE4813 BIS</text><text x="1462.2" y="340.6">SPE4715 BIS</text><text x="1452.3" y="334.4">SPE4759 BIS</text><text x="1415.0" y="328.6">SPC5191 BIS</text><text x="1467.9" y="340.5">SPR4822</text><text x="1471.8" y="340.9">SP50</text><text x="1420.3" y="334.1">SP16</text><text x="1430.7" y="333.4">SPR4846</text><text x="1437.3" y="343.8">Spc5570</text><text x="1447.2" y="331.0">SPE4783</text><text x="1414.6" y="343.5">SPC5110</text><text x="1445.0" y="339.3">SC5646</text><text x="1486.0" y="331.3">SC5624</text><text x="1469.4" y="337.3">SD4890</text><text x="1481.5" y="343.1">PE4792 BIS</text><text x="1415.0" y="332.1">SC5658</text><text x="1407.3" y="339.7">SPC5154</text><text x="1445.6" y="346.0">D4894</text><text x="1426.4" y="336.7">SH2484</text><text x="1427.4" y="340.8">SPD4874</text><text x="1424.2" y="342.2">SPC5529</text><text x="1465.1" y="339.9">Spc5530</text><text x="1487.7" y="331.9">SD4831</text><text x="1404.9" y="334.8">SPC5548</text><text x="1437.2" y="330.5">SD4845</text><text x="1432.7" y="326.8">SC5165</text><text x="1443.5" y="340.5">D4812</text><text x="1453.6" y="335.3">SPD4865</text><text x="1452.0" y="340.9">SPD4895</text><text x="1480.4" y="343.8">SPD4896</text><text x="1407.0" y="335.9">SH2490</text><text x="1481.8" y="331.6">SC5190</text><text x="1477.4" y="337.1">SPE4889</text><text x="1445.3" y="341.2">SC5693</text><text x="1483.1" y="328.4">SH2479</text><text x="1414.4" y="334.0">D4879</text><text x="1471.9" y="334.5">SPE4662</text><text x="1412.8" y="337.8">SD4888</text><text x="1400.5" y="332.3">SC5117 BIS</text><text x="1435.6" y="335.7">Spc5584</text><text x="1416.8" y="343.1">SPD4860</text><text x="1413.7" y="340.8">SPD4828</text><text x="1577.2" y="336.1">PE4769</text><text x="1590.9" y="333.4">SPR4855</text><text x="1531.0" y="334.3">SH2464</text><text x="1559.4" y="335.9">SH2455</text><text x="1539.1" y="330.7">PE4789</text><text x="1579.5" y="328.8">SP59 BIS</text><text x="1593.6" y="325.2">Spc5591</text><text x="1579.3" y="326.4">SPE4793</text><text x="1573.7" y="332.3">SPD4833</text><text x="1544.1" y="325.4">SC5178</text><text x="1605.7" y="332.7">SPE4795</text><text x="1567.0" y="333.2">SP35</text><text x="1529.1" y="324.3">D4895</text><text x="1567.7" y="327.2">SPD4827</text><text x="1568.0" y="330.7">SPC5599</text><text x="1561.3" y="331.6">SPE4830</text><text x="1557.9" y="332.0">SP69</text><text x="1513.5" y="333.2">SPE4812</text><text x="1562.7" y="330.8">SPC5514</text><text x="1552.0" y="325.0">SD4894</text><text x="1558.6" y="331.4">SPE2446</text><text x="1552.7" y="331.9">SP47</text><text x="1560.8" y="328.3">SH2474</text><text x="1528.0" y="330.9">SD4852</text><text x="1585.6" y="325.0">SPE4715</text><text x="1567.6" y="329.5">SPC5161</text><text x="1505.7" y="326.0">SPR4887</text><text x="1511.8" y="331.0">SC5188</text><text x="1581.1" y="334.0">SPE4737 BIS</text><text x="1576.6" y="333.0">SC5622</text><text x="1603.2" y="329.7">SD4893 BIS</text><text x="1603.5" y="325.2">SP81</text><text x="1602.5" y="326.0">SPC5150 BIS</text><text x="1569.0" y="332.3">SPC5173</text><text x="1509.4" y="324.9">PE4783</text><text x="1550.7" y="324.1">SC5186</text><text x="1563.5" y="344.8">SD4820</text><text x="1531.1" y="339.9">SPE4864 BIS</text><text x="1589.1" y="339.3">SPE4737</text><text x="1593.5" y="341.6">SC5616</text><text x="1596.9" y="350.2">SPC5520</text><text x="1573.6" y="346.5">SH2416</text><text x="1585.0" y="352.5">SPE4759</text><text x="1594.7" y="340.2">SPR4887 BIS</text><text x="1550.2" y="347.9">D4870</text><text x="1522.8" y="352.1">Spc5592</text><text x="1603.6" y="346.1">D4844</text><text x="1574.7" y="342.6">SPC5189</text><text x="1591.5" y="352.7">SPE4687</text><text x="1506.9" y="339.9">SP84</text><text x="1614.2" y="344.2">SC5187</text><text x="1455.5" y="318.2">SPE4851</text><text x="1461.5" y="319.1">SPC5146</text><text x="1474.0" y="321.1">SPC5545</text><text x="1473.5" y="318.8">SPR4854</text><text x="1465.3" y="318.4">SC5135</text><text x="1471.1" y="321.9">SP87 BIS</text><text x="1460.7" y="320.0">SH2485</text><text x="1473.3" y="318.2">SPE4778</text><text x="1337.5" y="346.0">SH2476</text><text x="1340.5" y="349.4">Spc5561</text><text x="1345.1" y="346.8">SPR4857</text><text x="1301.5" y="359.8">SPE4729</text><text x="1286.4" y="384.2">SPR4885</text><text x="1291.5" y="378.8">PE4722</text><text x="1354.7" y="347.2">SPC5153</text><text x="1354.3" y="347.4">SPD4892 BIS</text><text x="1284.4" y="383.0">Spc5540</text><text x="1343.3" y="334.8">SPR4817 BIS</text><text x="1285.9" y="376.9">D4893 BIS</text><text x="1351.5" y="345.2">Spc5527</text><text x="1297.9" y="376.2">SC5667</text><text x="1281.0" y="384.2">SH2463</text><text x="1343.6" y="352.1">SC5643</text><text x="1296.6" y="386.2">SD4829</text><text x="1328.1" y="344.7">SPR4846 BIS</text><text x="1282.6" y="381.9">SP28</text><text x="1269.4" y="380.4">SPE4675</text><text x="1304.7" y="375.3">SPC5176</text><text x="1298.2" y="382.5">SPR4821 BIS</text><text x="1346.5" y="348.0">SC5682</text><text x="1301.4" y="367.7">SPE4855</text><text x="1308.1" y="362.9">SD4855</text><text x="1321.5" y="414.6">SC5183</text><text x="1413.3" y="395.5">SPE4877</text><text x="1355.5" y="436.1">SPE4822</text><text x="1382.1" y="375.0">D4876</text><text x="1339.4" y="382.9">SD4832 BIS</text><text x="1292.8" y="395.4">SH2424</text><text x="1333.8" y="364.1">SPD4839</text><text x="1358.1" y="417.7">SC5612</text><text x="1331.4" y="389.0">SPC5160</text><text x="1333.1" y="425.8">PE4782</text><text x="1350.0" y="436.3">Spc5541</text><text x="1322.0" y="369.7">SPE4838</text><text x="1368.0" y="375.4">SH2490</text><text x="1311.3" y="397.8">PE4740</text><text x="1316.7" y="378.9">SC5625 BIS</text><text x="1338.8" y="397.0">SP62</text><text x="1314.7" y="416.8">SP68</text><text x="1357.7" y="409.2">SPE2480</text><text x="1341.8" y="400.2">SPR4870</text><text x="1302.4" y="400.0">SC5111</text><text x="1322.0" y="380.6">SH2446</text><text x="1362.9" y="382.6">SPC5176</text><text x="1338.8" y="416.7">SD4876</text><text x="1297.4" y="381.7">Spc5527</text><text x="1364.4" y="426.8">SD4870</text><text x="1366.4" y="407.6">SPC5562</text><text x="1359.9" y="395.8">SPC5563</text><text x="1315.5" y="406.7">SD4858</text><text x="1375.4" y="377.3">Spc5547</text><text x="1351.3" y="404.4">SPE4610</text><text x="1517.7" y="361.2">SP28</text><text x="1502.9" y="363.6">SPE4651</text><text x="1553.8" y="364.1">SPE4636</text><text x="1425.6" y="364.8">SPR4848</text><text x="1533.8" y="386.3">SC5169</text><text x="1550.8" y="369.6">SPE4896 BIS</text><text x="1470.4" y="372.5">SC5193</text><text x="1516.8" y="383.2">SPE4698</text><text x="1599.5" y="360.5">SPE4656</text><text x="1444.3" y="396.7">SPE4675</text><text x="1512.6" y="359.8">SP75</text><text x="1433.2" y="380.2">SD4855</text><text x="1420.6" y="387.5">SPE4848</text><text x="1533.2" y="359.2">SPE2462</text><text x="1452.0" y="377.9">SD4813 BIS</text><text x="1457.5" y="378.1">D4888</text><text x="1451.7" y="363.9">SH2431 BIS</text><text x="1628.5" y="355.2">SPE2467</text><text x="1424.3" y="363.0">SC5184</text><text x="1472.4" y="363.1">SC5685</text><text x="1599.5" y="367.2">SH2473</text><text x="1434.9" y="385.9">SPD4862</text><text x="1594.4" y="364.2">SC5631</text><text x="1484.0" y="380.1">SD4852</text><text x="1504.8" y="372.2">SPE4725</text><text x="1505.2" y="375.4">Spc5540</text><text x="1597.1" y="364.1">SPC5521</text><text x="1542.1" y="375.4">SPD4830</text><text x="1309.0" y="403.5">SPE4801</text><text x="1322.0" y="434.5">SPD4823</text><text x="1330.0" y="456.5">SPD4824</text><text x="1331.0" y="456.5">SD4822</text><text x="1315.0" y="420.0">SPE4807</text><text x="1330.0" y="427.0">SH2487</text><text x="1365.0" y="428.0">SPE4826</text><text x="1347.0" y="446.0">SPC5595</text><text x="1340.0" y="445.0">SPE4862</text><text x="1360.0" y="413.0">SPE4821</text><text x="1421.0" y="400.0">SH2438</text><text x="1396.0" y="400.0">SPE4809</text><text x="1352.0" y="398.0">SPE24</text><text x="1302.0" y="413.0">SPD4820</text><text x="1300.0" y="421.0">SPE4805</text><text x="1283.0" y="383.0">SPE4861</text><text x="1281.0" y="377.0">SPD4819</text><text x="1290.0" y="386.0">SPE4860</text><text x="1614.0" y="333.0">SPC5191</text><text x="1600.0" y="331.0">SPC5188</text><text x="1668.0" y="347.5">SP15 BIS</text><text x="1654.0" y="347.5">SC5185</text><text x="1660.0" y="347.5">SPE4833</text><text x="1625.0" y="354.0">SPC5183</text><text x="1610.0" y="358.0">SPC5602</text><text x="1488.0" y="317.0">SP12 BIS</text><text x="1548.0" y="392.0">SPC5592</text><text x="1519.0" y="388.0">SPE4880</text><text x="1498.0" y="401.0">SPE4834</text><text x="1580.0" y="371.0">SPC5180</text></g>
<text x="1681.00" y="346.00" font-size="12.40" fill="#2a3f5f" text-anchor="start" textLength="11.50" lengthAdjust="spacing" >J3</text>
<path d="M1598 335.200L1630 319L1626.500 332" fill="none" stroke="#ff0000" stroke-width="1.300"/>
</g>
<g transform="translate(1172.0,379.5) rotate(-19)"><text x="0.00" y="4.60" font-size="13.20" fill="#2a3f5f" text-anchor="middle" letter-spacing="0.3">15</text></g>
<g transform="translate(1183.2,409.6) rotate(-19)"><text x="0.00" y="4.60" font-size="13.20" fill="#2a3f5f" text-anchor="middle" letter-spacing="0.3">10</text></g>
<g transform="translate(1192.7,439.7) rotate(-19)"><text x="0.00" y="4.60" font-size="13.20" fill="#2a3f5f" text-anchor="middle" letter-spacing="0.3">5</text></g>
<g transform="translate(1202.0,466.0) rotate(-19)"><text x="0.00" y="4.60" font-size="13.20" fill="#2a3f5f" text-anchor="middle" letter-spacing="0.3">0</text></g>
<g transform="translate(1213.3,488.6) rotate(-19)"><text x="0.00" y="4.60" font-size="13.20" fill="#2a3f5f" text-anchor="middle" letter-spacing="0.3">−5</text></g>
<g transform="translate(1220.9,512.2) rotate(-19)"><text x="0.00" y="4.60" font-size="13.20" fill="#2a3f5f" text-anchor="middle" letter-spacing="0.3">−10</text></g>
<g transform="translate(1228.4,533.7) rotate(-19)"><text x="0.00" y="4.60" font-size="13.20" fill="#2a3f5f" text-anchor="middle" letter-spacing="0.3">−15</text></g>
<g transform="translate(1235.9,554.4) rotate(-19)"><text x="0.00" y="4.60" font-size="13.20" fill="#2a3f5f" text-anchor="middle" letter-spacing="0.3">−20</text></g>
<g transform="translate(1241.5,573.2) rotate(-19)"><text x="0.00" y="4.60" font-size="13.20" fill="#2a3f5f" text-anchor="middle" letter-spacing="0.3">−25</text></g>
<g transform="translate(1164.4,509.2) rotate(72)"><text x="-19.00" y="5.20" font-size="15.20" fill="#2a3f5f" text-anchor="start" textLength="38.00" lengthAdjust="spacing" >Z (m)</text></g>
<g clip-path="url(#clip3d)">
<g transform="translate(1246.4,580.7) rotate(-30)"><text x="-26.50" y="4.60" font-size="13.20" fill="#2a3f5f" text-anchor="start" textLength="53.00" lengthAdjust="spacing" >9.1443M</text></g>
<g transform="translate(1260.3,598.7) rotate(-30)"><text x="-26.50" y="4.60" font-size="13.20" fill="#2a3f5f" text-anchor="start" textLength="53.00" lengthAdjust="spacing" >9.1444M</text></g>
<g transform="translate(1276.0,616.4) rotate(-30)"><text x="-26.50" y="4.60" font-size="13.20" fill="#2a3f5f" text-anchor="start" textLength="53.00" lengthAdjust="spacing" >9.1445M</text></g>
<g transform="translate(1291.6,635.2) rotate(-30)"><text x="-26.50" y="4.60" font-size="13.20" fill="#2a3f5f" text-anchor="start" textLength="53.00" lengthAdjust="spacing" >9.1446M</text></g>
<g transform="translate(1308.0,652.9) rotate(-30)"><text x="-26.50" y="4.60" font-size="13.20" fill="#2a3f5f" text-anchor="start" textLength="53.00" lengthAdjust="spacing" >9.1447M</text></g>
<g transform="translate(1325.0,670.5) rotate(-30)"><text x="-26.50" y="4.60" font-size="13.20" fill="#2a3f5f" text-anchor="start" textLength="53.00" lengthAdjust="spacing" >9.1448M</text></g>
<g transform="translate(1630.0,548.0) rotate(29)"><text x="-26.50" y="4.60" font-size="13.20" fill="#2a3f5f" text-anchor="start" textLength="53.00" lengthAdjust="spacing" >1.4912M</text></g>
<g transform="translate(1599.5,578.0) rotate(29)"><text x="-26.50" y="4.60" font-size="13.20" fill="#2a3f5f" text-anchor="start" textLength="53.00" lengthAdjust="spacing" >1.4914M</text></g>
<g transform="translate(1566.0,612.0) rotate(29)"><text x="-26.50" y="4.60" font-size="13.20" fill="#2a3f5f" text-anchor="start" textLength="53.00" lengthAdjust="spacing" >1.4916M</text></g>
<g transform="translate(1527.3,650.5) rotate(29)"><text x="-26.50" y="4.60" font-size="13.20" fill="#2a3f5f" text-anchor="start" textLength="53.00" lengthAdjust="spacing" >1.4918M</text></g>
<g transform="translate(1601,636.5) rotate(-50)"><text x="-20.00" y="5.20" font-size="15.20" fill="#2a3f5f" text-anchor="start" textLength="40.00" lengthAdjust="spacing" >X (m)</text></g>
<path d="M1253.500 667L1257.500 661.500" stroke="#2a3f5f" stroke-width="1.300"/>
</g>
</svg>
<!-- sidebar -->
<div class="sidebar">
<svg class="abs" style="left:13.200px;top:4.300px" width="52" height="52" viewBox="-26 -26 52 52"><path d="M-20.40 -0.00L-20.25 -2.49L-19.79 -4.94L-19.05 -7.31L-18.01 -9.58L-16.71 -11.70L-15.16 -13.65L-13.38 -15.40L-11.41 -16.91L-9.26 -18.18L-6.98 -19.17L-4.59 -19.88L-2.13 -20.29L0.36 -20.40L2.84 -20.20L1.81 -12.87L0.23 -13.00L-1.36 -12.93L-2.92 -12.67L-4.45 -12.22L-5.90 -11.58L-7.27 -10.78L-8.53 -9.81L-9.66 -8.70L-10.65 -7.46L-11.48 -6.10L-12.14 -4.66L-12.61 -3.14L-12.90 -1.58L-13.00 -0.00Z" fill="#a9c4cc"/><path d="M2.37 -16.83L3.70 -16.59L5.01 -16.24L6.29 -15.79L7.53 -15.24L8.72 -14.59L9.85 -13.85L10.93 -13.02L11.93 -12.11L12.86 -11.12L13.70 -10.06L14.46 -8.94L15.13 -7.76L15.70 -6.53L16.17 -5.25L11.79 -3.83L11.45 -4.76L11.03 -5.66L10.55 -6.52L10.00 -7.34L9.38 -8.11L8.70 -8.83L7.97 -9.50L7.19 -10.10L6.36 -10.64L5.49 -11.12L4.59 -11.52L3.65 -11.85L2.70 -12.10L1.73 -12.28Z" fill="#a9c4cc"/><path d="M18.91 -7.64L19.80 -4.91L20.29 -2.08L20.38 0.79L20.07 3.64L19.36 6.42L18.27 9.08L16.81 11.55L15.02 13.80L12.94 15.77L10.59 17.43L8.04 18.75L5.33 19.69L2.51 20.24L-0.36 20.40L-0.22 12.60L1.55 12.50L3.29 12.16L4.97 11.58L6.54 10.77L7.99 9.74L9.28 8.52L10.38 7.14L11.28 5.61L11.96 3.97L12.40 2.25L12.59 0.49L12.53 -1.29L12.23 -3.03L11.68 -4.72Z" fill="#a3bfc8"/><path d="M-0.00 17.70L-1.96 17.59L-3.90 17.27L-5.78 16.73L-7.60 15.99L-9.32 15.05L-10.93 13.92L-12.41 12.62L-13.73 11.17L-14.88 9.58L-15.85 7.88L-16.62 6.07L-17.20 4.20L-17.55 2.27L-17.70 0.31L-12.30 0.21L-12.20 1.58L-11.95 2.92L-11.55 4.22L-11.01 5.47L-10.34 6.66L-9.54 7.76L-8.62 8.77L-7.60 9.67L-6.48 10.46L-5.28 11.11L-4.02 11.62L-2.71 12.00L-1.36 12.22L-0.00 12.30Z" fill="#d6e3df"/><path d="M-11.95 -10.03L-11.00 -10.94L-9.98 -11.77L-8.89 -12.50L-7.76 -13.14L-6.58 -13.67L-5.37 -14.10L-4.13 -14.42L-2.88 -14.63L-1.62 -14.74L-0.37 -14.74L0.88 -14.63L2.10 -14.42L3.29 -14.11L4.45 -13.70L4.02 -12.36L2.96 -12.67L1.88 -12.89L0.78 -13.02L-0.33 -13.05L-1.43 -12.99L-2.53 -12.84L-3.61 -12.59L-4.67 -12.25L-5.70 -11.83L-6.68 -11.32L-7.63 -10.72L-8.52 -10.05L-9.35 -9.30L-10.11 -8.48Z" fill="#2f8f98"/><path d="M-13.11 2.79L-13.33 2.28L-13.54 1.77L-13.73 1.24L-13.90 0.69L-14.04 0.14L-14.17 -0.42L-14.27 -1.00L-14.34 -1.58L-14.39 -2.17L-14.42 -2.77L-14.43 -3.37L-14.40 -3.98L-14.36 -4.59L-14.28 -5.20L-11.46 -4.17L-11.62 -3.71L-11.76 -3.25L-11.88 -2.77L-11.98 -2.30L-12.06 -1.82L-12.13 -1.34L-12.17 -0.85L-12.19 -0.36L-12.20 0.12L-12.18 0.61L-12.15 1.09L-12.10 1.58L-12.03 2.06L-11.93 2.54Z" fill="#1e4763"/><path d="M-14.28 -5.20L-13.86 -5.88L-13.40 -6.54L-12.92 -7.16L-12.41 -7.75L-11.87 -8.31L-11.30 -8.83L-10.72 -9.32L-10.11 -9.76L-9.49 -10.18L-8.85 -10.55L-8.20 -10.88L-7.54 -11.18L-6.87 -11.44L-6.20 -11.65L-5.73 -10.77L-6.28 -10.46L-6.82 -10.11L-7.34 -9.74L-7.84 -9.35L-8.32 -8.92L-8.78 -8.47L-9.21 -8.00L-9.61 -7.51L-9.99 -7.00L-10.35 -6.47L-10.67 -5.91L-10.97 -5.35L-11.23 -4.77L-11.46 -4.17Z" fill="#1e4763"/><path d="M-13.59 0.47L-13.48 1.03L-13.34 1.57L-13.18 2.10L-12.99 2.63L-12.79 3.14L-12.57 3.64L-12.33 4.12L-12.07 4.60L-11.79 5.06L-11.49 5.50L-11.18 5.93L-10.86 6.34L-10.51 6.73L-10.16 7.11L-9.99 7.00L-10.27 6.58L-10.53 6.15L-10.78 5.71L-11.00 5.27L-11.21 4.81L-11.40 4.34L-11.57 3.87L-11.72 3.39L-11.85 2.91L-11.96 2.42L-12.05 1.92L-12.12 1.43L-12.16 0.93L-12.19 0.43Z" fill="#5f98b4"/><path d="M15.60 -5.68L15.72 -4.98L15.80 -4.28L15.86 -3.58L15.88 -2.88L15.88 -2.19L15.84 -1.51L15.78 -0.83L15.68 -0.16L15.56 0.50L15.41 1.16L15.24 1.79L15.04 2.42L14.81 3.03L14.55 3.63L12.23 3.05L12.34 2.53L12.44 2.00L12.51 1.47L12.56 0.94L12.59 0.41L12.60 -0.13L12.58 -0.66L12.54 -1.19L12.48 -1.72L12.40 -2.25L12.29 -2.77L12.16 -3.29L12.01 -3.80L11.84 -4.31Z" fill="#3d9aa0"/><path d="M13.39 2.36L13.30 2.83L13.20 3.29L13.07 3.75L12.93 4.20L12.78 4.65L12.61 5.09L12.42 5.53L12.22 5.96L12.01 6.38L11.78 6.80L11.53 7.21L11.27 7.61L11.00 7.99L10.72 8.37L9.77 7.63L10.03 7.29L10.28 6.93L10.52 6.57L10.74 6.20L10.95 5.82L11.15 5.44L11.33 5.04L11.50 4.65L11.65 4.24L11.79 3.83L11.92 3.42L12.03 3.00L12.13 2.58L12.21 2.15Z" fill="#274a63"/><path d="M10.84 7.88L10.44 8.74L9.97 9.58L9.44 10.40L8.83 11.19L8.17 11.95L7.44 12.66L6.65 13.33L5.80 13.96L4.90 14.52L3.95 15.03L2.95 15.48L1.91 15.86L0.83 16.16L-0.29 16.40L-0.21 12.30L0.63 12.28L1.47 12.21L2.30 12.08L3.12 11.90L3.93 11.65L4.72 11.36L5.49 11.01L6.23 10.61L6.94 10.15L7.62 9.65L8.26 9.11L8.87 8.52L9.43 7.89L9.95 7.23Z" fill="#4a8aa6"/></svg>
<div class="abs" style="left:5px;top:65px;width:69px;height:1px;background:#dcdcdc"></div>
<svg class="abs" style="left:26.3px;top:89.0px" width="26.4" height="26.4" viewBox="0 0 24 24"><path fill="#3b6c79" d="M12 17.27L18.18 21l-1.64-7.03L22 9.24l-7.19-.61L12 2 9.19 8.63 2 9.24l5.46 4.73L5.82 21z"/></svg>
<svg class="abs" style="left:25.7px;top:146.1px" width="27.6" height="27.6" viewBox="0 0 24 24"><path fill="#3b6c79" d="M20.5 3l-.16.03L15 5.1 9 3 3.36 4.9c-.21.07-.36.25-.36.48V20.5c0 .28.22.5.5.5l.16-.03L9 18.9l6 2.1 5.64-1.9c.21-.07.36-.25.36-.48V3.5c0-.28-.22-.5-.5-.5zM15 19l-6-2.11V5l6 2.11V19z"/></svg>
<svg class="abs" style="left:25.5px;top:205px" width="28" height="28" viewBox="-14 -14 28 28">
<g stroke="#3b6c79" stroke-width="2.1" fill="none"><circle r="7.6"/><path d="M-12 0H12M0 -12V12"/></g>
<path fill="#3b6c79" d="M0 0V-7.6A7.6 7.6 0 0 1 7.6 0Z M0 0V7.6A7.6 7.6 0 0 1 -7.6 0Z"/></svg>
<div class="abs" style="left:0;top:251px;width:77px;height:58px;background:#e8e5e1"></div>
<div class="abs" style="left:77px;top:251px;width:2.5px;height:58px;background:#2f6170"></div>
<svg class="abs" style="left:28px;top:266px" width="24" height="24" viewBox="28 266 24 24"><g fill="#3b6c79">
<rect x="31.3" y="274.6" width="3.3" height="11.4" rx="0.6"/><rect x="37.8" y="270" width="3.4" height="16" rx="0.6"/><rect x="44.1" y="279.1" width="3.3" height="6.9" rx="0.6"/></g></svg>
<svg class="abs" style="left:26px;top:322px" width="28" height="28" viewBox="26 322 28 28"><g fill="none" stroke="#3b6c79" stroke-width="2" stroke-linecap="butt" stroke-linejoin="round" transform="translate(0.3,0.4)">
<path d="M39.2 341.6H32a2.2 2.2 0 0 1 -2.2 -2.2V329.8a2.2 2.2 0 0 1 2.2 -2.2H44.400a2.2 2.2 0 0 1 2.2 2.2V334.300"/>
<path d="M29.8 332.2H46.6M29.8 337H36.500a1.800 1.800 0 0 0 1.800 -1.800V327.600"/><path d="M46.100 337.400V345.700M42.100 341.600H50.500"/></g></svg>
<svg class="abs" style="left:25.9px;top:381.3px" width="27.2" height="27.2" viewBox="0 0 24 24"><path fill="#3b6c79" d="M18 4H6v2l6.5 6L6 18v2h12v-3h-7l5-5-5-5h7z"/></svg>
<div class="abs" style="left:5px;top:824px;width:69px;height:1px;background:#dcdcdc"></div>
<svg class="abs" style="left:25.5px;top:865px" width="28" height="28" viewBox="0 0 24 24"><path fill="#3b6c79" d="M12 12c2.21 0 4-1.79 4-4s-1.79-4-4-4-4 1.79-4 4 1.79 4 4 4zm0 2c-2.67 0-8 1.34-8 4v2h16v-2c0-2.66-5.33-4-8-4z"/></svg>
</div>
<div class="abs" style="left:79px;top:0;width:6px;height:904px;background:linear-gradient(90deg,#e9e9e9,#f4f4f4 60%,#fff)"></div>
<!-- top bar -->
<div class="abs" style="left:80px;top:32px;width:1837px;height:1px;background:#dadada"></div>
<span class="t" style="left:97.50px;top:4.13px;font-size:17.80px;letter-spacing:0.251px;color:#6a6a6a;">Port du Havre - Dess (...) conteneurs</span>
<svg class="abs" style="left:417px;top:8px" width="8" height="13" viewBox="0 0 8 13"><path fill="#555" d="M1 0.8L7 6.4L1 12z"/></svg>
<svg class="abs" style="left:445px;top:7px" width="14" height="14" viewBox="445 7 14 14"><g fill="#555">
<rect x="446.6" y="11.9" width="1.7" height="7.1" rx="0.4"/><rect x="450.7" y="8.5" width="1.9" height="10.5" rx="0.4"/><rect x="455.2" y="14.8" width="1.9" height="4.2" rx="0.4"/></g></svg>
<span class="t" style="left:466.40px;top:4.23px;font-size:17.80px;letter-spacing:-0.837px;color:#6a6a6a;">OAD</span>
<svg class="abs" style="left:523px;top:8px" width="8" height="13" viewBox="0 0 8 13"><path fill="#555" d="M1 0.8L7 6.4L1 12z"/></svg>
<svg class="abs" style="left:563.4px;top:7.2px" width="15" height="15" viewBox="0 0 24 24"><path fill="#555" d="M12 3L1 9l4 2.18v6L12 21l7-3.82v-6l2-1.09V17h2V9L12 3zm6.820 6L12 12.720 5.180 9 12 5.280 18.820 9zM17 15.990l-5 2.730-5-2.730v-3.720L12 15l5-2.730v3.720z"/></svg>
<span class="t" style="left:583.50px;top:4.70px;font-size:15.30px;letter-spacing:-0.218px;color:#6a6a6a;">Cas d'étude</span>
<svg class="abs" style="left:672px;top:8px" width="14" height="14" viewBox="672 8 14 14"><g fill="none" stroke="#555" stroke-width="1.2">
<rect x="673.3" y="9.5" width="10.9" height="10.4" rx="1"/></g><g stroke="#555" stroke-width="1.1"><path d="M675.2 12.6h2.6M679.9 11.5l2.2 2.2M682.1 11.5l-2.2 2.200M675.200 16.900h2.600M676.500 15.600v2.600M679.800 16.200h2.500M679.800 17.800h2.500"/></g></svg>
<span class="t" style="left:691.10px;top:4.70px;font-size:15.30px;letter-spacing:-0.085px;color:#6a6a6a;">Stra - Stratigraphie</span>
<svg class="abs" style="left:830px;top:9px" width="14" height="10" viewBox="830 9 14 10"><path d="M832.6 12.000L837 16.300L841.400 12.000" fill="none" stroke="#555" stroke-width="1.700"/></svg>
<span class="t" style="left:105.60px;top:54.81px;font-size:17.00px;letter-spacing:0.036px;color:#4b89aa;">Général</span>
<span class="t" style="left:185.90px;top:54.81px;font-size:17.00px;letter-spacing:0.108px;color:#4b89aa;">Données</span>
<span class="t" style="left:273.60px;top:54.81px;font-size:17.00px;letter-spacing:-0.308px;color:#4b89aa;">Calcul</span>
<div class="abs" style="left:96px;top:84px;width:851px;height:1px;background:#dedede"></div>
<div class="abs" style="left:876px;top:42px;width:71px;height:43px;background:#bcc7ce;border-radius:8px"></div>
<span class="t" style="left:894.60px;top:54.10px;font-size:17.60px;letter-spacing:-0.142px;color:#ffffff;">Aide</span>
<div class="abs" style="left:957px;top:42px;width:33px;height:851px;background:#eeeeee;border-radius:9px"></div>
<svg class="abs" style="left:960px;top:462px" width="27" height="14" viewBox="960 462 27 14"><g fill="#4682a9"><path d="M967 463.9V473.600L961.600 468.700z"/><path d="M979.300 463.900V473.600L984.900 468.700z"/></g></svg>
<span class="t" style="left:243.90px;top:131.37px;font-size:9.60px;letter-spacing:1.258px;color:#2a3f5f;">Aa</span>
<span class="t" style="left:273.40px;top:138.23px;font-size:13.20px;letter-spacing:0.208px;color:#2a3f5f;">Sondage</span>
<div class="abs" style="left:339.5px;top:142.7px;width:33.6px;height:10px;background:#ffff00"></div>
<span class="t" style="left:379.00px;top:138.23px;font-size:13.20px;letter-spacing:0.294px;color:#2a3f5f;">Remblais sup</span>
<div class="abs" style="left:474.2px;top:142.7px;width:33.6px;height:10px;background:#ffa500"></div>
<span class="t" style="left:514.30px;top:138.23px;font-size:13.20px;letter-spacing:0.361px;color:#2a3f5f;">Remblais int</span>
<div class="abs" style="left:602.4px;top:142.7px;width:33.6px;height:10px;background:#ff0000"></div>
<span class="t" style="left:642.50px;top:138.23px;font-size:13.20px;letter-spacing:0.407px;color:#2a3f5f;">Remblais inf</span>
<div class="abs" style="left:732.1px;top:142.7px;width:33.6px;height:10px;background:#0000ff"></div>
<span class="t" style="left:771.70px;top:138.23px;font-size:13.20px;letter-spacing:0.448px;color:#2a3f5f;">Dépôts récents</span>
<div class="abs" style="left:233.9px;top:175.4px;width:33.6px;height:10px;background:#008000"></div>
<span class="t" style="left:273.40px;top:171.03px;font-size:13.20px;letter-spacing:0.251px;color:#2a3f5f;">Sables gris vert sup</span>
<div class="abs" style="left:406.6px;top:175.4px;width:33.6px;height:10px;background:#00ffff"></div>
<span class="t" style="left:446.20px;top:171.03px;font-size:13.20px;letter-spacing:0.317px;color:#2a3f5f;">Sables gris vert inf</span>
<div class="abs" style="left:573.4px;top:175.4px;width:33.6px;height:10px;background:#ffc0cb"></div>
<span class="t" style="left:612.90px;top:171.03px;font-size:13.20px;letter-spacing:-0.084px;color:#2a3f5f;">Silts</span>
<span class="t" style="left:1026.30px;top:54.71px;font-size:17.00px;letter-spacing:0.408px;color:#4b89aa;">Modèle</span>
<span class="t" style="left:1103.30px;top:58.61px;font-size:17.00px;letter-spacing:-0.021px;color:#555555;">Résultats</span>
<div class="abs" style="left:1016px;top:92px;width:887px;height:1px;background:#dedede"></div>
<div class="abs" style="left:1093px;top:42px;width:90px;height:4px;background:#4a6478"></div>
<div class="abs" style="left:1093px;top:89px;width:90px;height:4px;background:#4a6478"></div>
<div class="abs" style="left:1016.0px;top:101px;width:107.0px;height:33px;background:#e0e9e4;border-radius:9px;"></div>
<span class="t" style="left:1030.70px;top:106.92px;font-size:16.40px;letter-spacing:-0.394px;color:#111111;">Surface 2D</span>
<div class="abs" style="left:1137.0px;top:101px;width:107.8px;height:35px;background:#e0e9e4;border-radius:9px;box-sizing:border-box;border:1.200px solid #3c5a6e;border-radius:10px"></div>
<span class="t" style="left:1151.20px;top:107.92px;font-size:16.40px;letter-spacing:-0.360px;color:#111111;">Surface 3D</span>
<div class="abs" style="left:1259.0px;top:101px;width:74.0px;height:33px;background:#e0e9e4;border-radius:9px;"></div>
<span class="t" style="left:1272.50px;top:106.92px;font-size:16.40px;letter-spacing:-0.332px;color:#111111;">Coupe</span>
<div class="abs" style="left:1346.9px;top:101px;width:126.8px;height:33px;background:#e0e9e4;border-radius:9px;"></div>
<span class="t" style="left:1360.40px;top:106.92px;font-size:16.40px;letter-spacing:0.229px;color:#111111;">Histogramme</span>
<div class="abs" style="left:1486.9px;top:101px;width:93.8px;height:33px;background:#e0e9e4;border-radius:9px;"></div>
<span class="t" style="left:1501.20px;top:106.92px;font-size:16.40px;letter-spacing:-0.106px;color:#111111;">Prévision</span>
<div class="abs" style="left:1046.9px;top:165.6px;width:33.9px;height:2px;background:#ff0000"></div>
<span class="t" style="left:1086.60px;top:156.93px;font-size:13.20px;letter-spacing:0.375px;color:#2a3f5f;">Coupe</span>
<span class="t" style="left:1149.40px;top:150.37px;font-size:9.60px;letter-spacing:0.558px;color:#2a3f5f;">Aa</span>
<span class="t" style="left:1178.70px;top:156.93px;font-size:13.20px;letter-spacing:0.150px;color:#2a3f5f;">Sondages</span>
<svg class="abs" style="left:1261px;top:160px" width="13" height="13" viewBox="-6.500 -6.500 13 13"><path d="M0 -3.100L3.100 0L0 3.100L-3.100 0Z" fill="#fff" stroke="#2222ee" stroke-width="1.400"/></svg>
<span class="t" style="left:1290.80px;top:156.93px;font-size:13.20px;letter-spacing:0.575px;color:#2a3f5f;">Nappe</span>
<div class="abs" style="left:1343.8px;top:162.1px;width:33.8px;height:8.8px;background:#ffff00"></div>
<span class="t" style="left:1383.40px;top:156.93px;font-size:13.20px;letter-spacing:0.348px;color:#2a3f5f;">Remblais sup</span>
<div class="abs" style="left:1479.1px;top:162.1px;width:33.8px;height:8.8px;background:#ffa500"></div>
<span class="t" style="left:1519.00px;top:156.93px;font-size:13.20px;letter-spacing:0.379px;color:#2a3f5f;">Remblais int</span>
<div class="abs" style="left:1607.2px;top:162.1px;width:33.8px;height:8.8px;background:#ff0000"></div>
<span class="t" style="left:1647.40px;top:156.93px;font-size:13.20px;letter-spacing:0.352px;color:#2a3f5f;">Remblais inf</span>
<div class="abs" style="left:1736.3px;top:162.1px;width:33.8px;height:8.8px;background:#0000ff"></div>
<span class="t" style="left:1776.80px;top:156.93px;font-size:13.20px;letter-spacing:0.425px;color:#2a3f5f;">Dépôts récents</span>
<div class="abs" style="left:1046.9px;top:194.6px;width:33.8px;height:8.8px;background:#008000"></div>
<span class="t" style="left:1086.60px;top:188.93px;font-size:13.20px;letter-spacing:0.283px;color:#2a3f5f;">Sables gris vert sup</span>
<div class="abs" style="left:1219.6px;top:194.6px;width:33.8px;height:8.8px;background:#00ffff"></div>
<span class="t" style="left:1259.50px;top:188.93px;font-size:13.20px;letter-spacing:0.327px;color:#2a3f5f;">Sables gris vert inf</span>
<div class="abs" style="left:1692px;top:146px;width:212px;height:19.500px;background:rgba(255,255,255,0.5)"></div>
<svg class="abs" style="left:1690px;top:145px" width="215" height="24" viewBox="1690 145 215 24">
<g fill="#cccccc"><path d="M1698 153.800h3.400l1.400 -2.800h7.800l1.400 2.800h4.200v10.200h-18.200z"/></g><circle cx="1706.800" cy="158.800" r="3.900" fill="#fff"/><circle cx="1706.800" cy="158.800" r="2.300" fill="#cccccc"/>
<g fill="none" stroke="#cccccc"><circle cx="1741" cy="156.300" r="5.900" stroke-width="2.400"/><path d="M1745.500 160.800L1751 166.200" stroke-width="3.200"/></g><rect x="1738.300" y="153.600" width="5.400" height="5.400" fill="#cccccc"/>
<g fill="none" stroke="#cccccc" stroke-width="1.900"><path d="M1770 150.500V165.500M1762.500 158H1777.500"/></g><g fill="#cccccc"><path d="M1770 148.800l3.300 3.800h-6.600zM1770 167.200l3.300 -3.800h-6.600zM1760.800 158l3.800 -3.300v6.600zM1779.200 158l-3.800 -3.300v6.600z"/></g>
<g fill="none" stroke="#cccccc" stroke-width="2.600"><path d="M1791.500 160.500A6.500 6.500 0 0 1 1802.500 153.300"/><path d="M1803.200 156.500A6.500 6.500 0 0 1 1792.600 163.400"/></g><g fill="#cccccc"><path d="M1788.500 157.800l6.400 1.200l-5 4.300z"/><path d="M1806 158.500l-6.200 -0.600l4.300 -4.800z"/></g>
<g fill="none" stroke="#777777"><path d="M1821.700 150.200h3.700l-3.700 4.200h3.700" stroke-width="1.300"/><path d="M1824 157V163" stroke-width="1.500"/><path d="M1817 161.800c0 3.600 14 3.600 14 0" stroke-width="1.300"/></g><g fill="#777777"><path d="M1824 155.200l2.200 2.800h-4.400z"/><path d="M1833 161.400l-3.400 -1.200l0.800 3.200z"/><path d="M1821.500 162.400h5v1.300h-5z"/></g>
<g fill="#cccccc"><path d="M1860 150.800l8.600 7.400h-2.400v6h-4.300v-4.200h-3.800v4.200h-4.300v-6h-2.400z"/><rect x="1864.300" y="151.200" width="2.200" height="4"/></g>
<g fill="#cccccc"><rect x="1878" y="157" width="13.500" height="8.600" rx="1.200"/><path d="M1891 160l5 -3v9l-5 -3z"/></g><g fill="#fff" stroke="#cccccc" stroke-width="1.800"><circle cx="1881.600" cy="153.900" r="2.700"/><circle cx="1888.200" cy="153.500" r="3.100"/></g>
</svg>
<span class="t" style="left:1016.50px;top:711.39px;font-size:16.20px;letter-spacing:-0.210px;color:#2a4057;">Coupe</span>
<div class="abs" style="left:1016px;top:743px;width:427px;height:40px;box-sizing:border-box;border:1px solid #cccccc;border-radius:7px;background:#fff"></div>
<span class="t" style="left:1029.00px;top:753.19px;font-size:16.20px;letter-spacing:-0.364px;color:#444444;">Selon Y (m)</span>
<svg class="abs" style="left:1418px;top:758px" width="14" height="10" viewBox="0 0 14 10"><path d="M2.200 2.600h9.600l-4.800 4.800z" fill="#777"/></svg>
<span class="t" style="left:1477.30px;top:711.39px;font-size:16.20px;letter-spacing:0.056px;color:#2a4057;">Distance maximale des sondages à afficher</span>
<div class="abs" style="left:1477px;top:743px;width:426px;height:39px;box-sizing:border-box;border:1px solid #cccccc;border-radius:7px;background:#fff"></div>
<span class="t" style="left:1487.30px;top:752.19px;font-size:16.20px;letter-spacing:-0.520px;color:#444444;">25</span>
<div class="abs" style="left:1045px;top:826px;width:830px;height:4px;background:#e9e9e9;border-radius:2px"></div>
<div class="abs" style="left:1708.700px;top:819.400px;width:16.400px;height:16.400px;border-radius:50%;background:#04456b"></div>
<div class="abs" style="left:1671px;top:780px;width:93px;height:26.400px;background:#6c6c6c;border-radius:5px"></div>
<svg class="abs" style="left:1711px;top:806px" width="12" height="6" viewBox="0 0 12 6"><path d="M1.500 0h9L6 4.700z" fill="#6c6c6c"/></svg>
<span class="t" style="left:1673.90px;top:783.29px;font-size:13.60px;letter-spacing:0.065px;color:#ffffff;">9144903.5929</span>
</body></html>
